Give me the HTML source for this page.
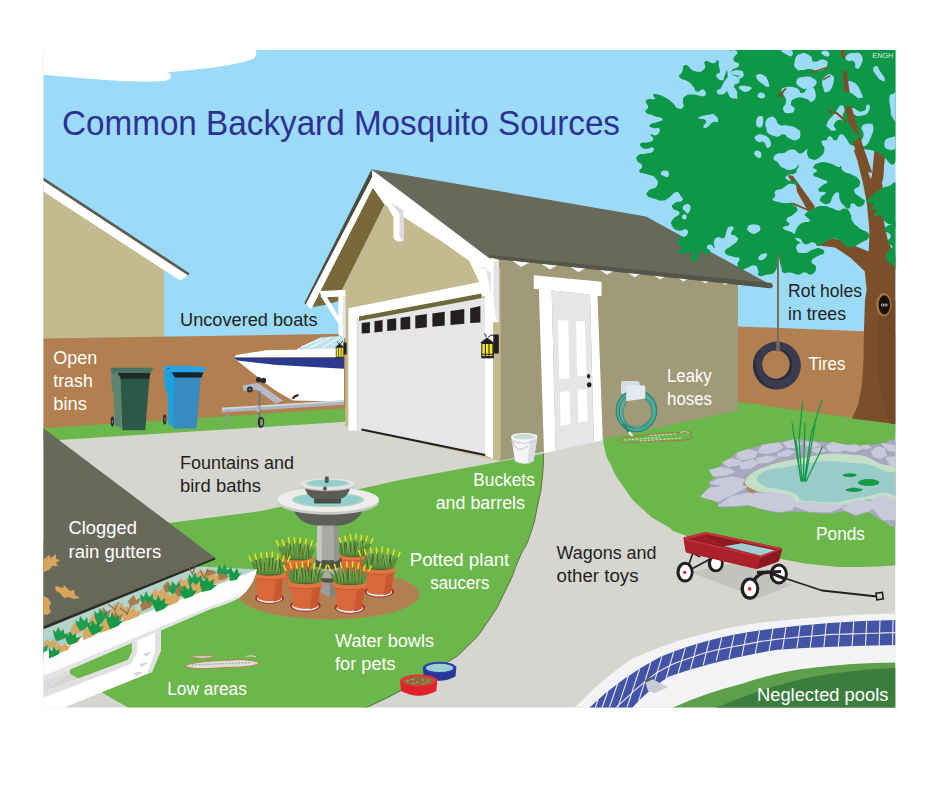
<!DOCTYPE html>
<html>
<head>
<meta charset="utf-8">
<title>Common Backyard Mosquito Sources</title>
<style>
html,body{margin:0;padding:0;background:#fff;}
body{width:940px;height:788px;overflow:hidden;font-family:"Liberation Sans",sans-serif;}
svg{display:block;}
svg text{font-family:"Liberation Sans",sans-serif;}
.w{fill:#fff;}
.k{fill:#231f20;}
</style>
</head>
<body>
<svg width="940" height="788" viewBox="0 0 940 788">
<defs>
<clipPath id="frame"><rect x="43.5" y="50.1" width="852" height="657.5"/></clipPath>
</defs>
<rect x="0" y="0" width="940" height="788" fill="#fff"/>
<g clip-path="url(#frame)">
<!-- SKY -->
<rect x="43" y="50" width="853" height="400" fill="#9bdbf7"/>
<!-- CLOUD -->
<path d="M38,45 H250 C258,48 259,57 250,60 C225,68 190,69.5 167,72.5 C172,74.5 172.5,78.5 167,80.3 C150,84 100,80 38,74.3 Z" fill="#fff"/>

<!-- LEFT HOUSE -->
<polygon points="43,185 164,266 164,340 43,342" fill="#c3ba90"/>
<polygon points="43,179 188.8,274.5 180.4,280.8 43,191.3" fill="#fff"/>
<polygon points="43,177.2 189.6,273.2 188.2,275.6 43,180.6" fill="#5d5d52"/>

<!-- FENCES -->
<polygon points="43,338.5 346,333.8 346,412 43,430" fill="#b17f50"/>
<polygon points="737,326.4 895.5,332.5 895.5,432 736,410" fill="#b17f50"/>

<!-- GROUND : driveway base -->
<polygon points="43,432 346,412 500,458 740,412 895.5,434 895.5,708 43,708" fill="#d6d6d1"/>
<!--LAWNS-->
<g id="lawns">
<polygon points="43,428.3 346,408.3 346,421.8 43,441" fill="#6cb74b"/>
<path id="leftlawn" d="M43,540 L170.6,522.8 L260,511.3 L400,480 L543.7,453.5 C543.1,462.3 543.9,463.2 542.0,480.0 C540.1,496.8 541.9,485.7 537.9,504.0 C533.9,522.3 536.5,516.3 530.0,535.0 C523.5,553.7 526.2,542.4 518.5,560.0 C510.8,577.6 517.1,567.1 506.8,587.7 C496.5,608.3 501.2,601.9 487.7,621.7 C474.2,641.5 480.6,633.1 466.4,647.2 C452.2,661.3 460.5,653.2 445.0,664.0 C429.5,674.8 435.6,670.2 420.0,679.5 C404.4,688.8 415.5,682.9 398.3,692.0 C381.1,701.1 379.3,701.4 368.5,706.8 C357.7,712.2 366.8,707.7 366.0,708.2 L128.5,708 L69,673 L43,660 Z" fill="#6cb74b"/>
<path d="M543.7,453.5 C543.1,462.3 543.9,463.2 542.0,480.0 C540.1,496.8 541.9,485.7 537.9,504.0 C533.9,522.3 536.5,516.3 530.0,535.0 C523.5,553.7 526.2,542.4 518.5,560.0 C510.8,577.6 517.1,567.1 506.8,587.7 C496.5,608.3 501.2,601.9 487.7,621.7 C474.2,641.5 480.6,633.1 466.4,647.2 C452.2,661.3 460.5,653.2 445.0,664.0 C429.5,674.8 435.6,670.2 420.0,679.5 C404.4,688.8 415.5,682.9 398.3,692.0 C381.1,701.1 379.3,701.4 368.5,706.8 C357.7,712.2 366.8,707.7 366.0,708.2" fill="none" stroke="#5d6a3c" stroke-width="1"/>
<path id="rightlawn" d="M895.5,565.5 L895.5,424 L853.6,418 L736,401.7 L736,410 L603.2,438.5 C603.8,442.3 602.8,441.8 605.0,450.0 C607.2,458.2 603.8,451.0 609.8,463.0 C615.8,475.0 612.0,470.6 623.0,486.0 C634.0,501.4 628.5,496.0 642.8,509.2 C657.1,522.4 651.6,516.8 665.9,525.6 C680.2,534.4 662.6,527.5 685.6,535.5 C708.6,543.5 700.9,541.2 735.0,549.5 C769.1,557.8 759.3,555.1 787.9,560.3 C816.5,565.5 798.9,563.0 820.9,565.2 C842.9,567.4 828.9,566.8 853.8,566.9 C878.7,567.0 881.6,566.0 895.5,565.5 Z" fill="#6cb74b"/>
</g>



<!-- POOL -->
<g id="pool">
<path d="M574.5,708 Q600,680 632,659 Q690,632 762,622.5 Q830,615 895.5,613.6 V708 Z" fill="#f4f4f6"/>
<path d="M589,708 Q620,678 660,657 Q705,638 762,630 Q830,621 895.5,620 V645 Q830,646 777,649.7 Q715,660 668.5,676.8 Q648,690 632,708 Z" fill="#4354a5"/>
<path d="M672,708 Q705,693 741,684 Q780,671 813,667.8 Q850,663 895.5,662.5 V708 Z" fill="#5e9f4c"/>
<path d="M715.5,708 Q770,685 813,676.8 Q850,670 895.5,668 V708 Z" fill="#3b7d3d"/>
</g>

<!-- POOL TILES -->
<g id="tiles" stroke="#e9ebf4" stroke-width="1.1" fill="none">
<path d="M893.0,620.1 L892.6,645.1 M880.0,620.6 L879.2,645.6 M866.7,621.1 L865.5,645.8 M853.7,621.6 L852.1,646.0 M840.4,622.1 L838.3,646.5 M826.3,622.9 L823.9,647.0 M813.0,624.4 L810.2,647.7 M800.0,625.8 L796.9,648.6 M785.9,627.4 L782.5,649.6 M772.9,628.8 L769.1,651.2 M759.6,630.5 L755.3,653.8 M746.6,633.0 L741.9,656.2 M734.0,635.4 L728.9,658.6 M721.7,637.8 L716.3,660.9 M709.4,640.2 L703.2,665.1 M697.1,643.8 L690.4,669.4 M685.2,648.1 L678.1,673.6 M673.6,652.2 L665.9,678.8 M662.0,656.3 L652.1,689.1 M650.8,662.4 L638.5,701.6 M639.5,669.0 L623.8,717.5 M628.6,675.4 L608.7,734.9 M618.1,682.2 L596.4,745.1 M607.9,691.2 L588.9,745.2 M598.1,699.9 L581.8,745.1 M588.3,708.8 L574.8,745.2 M578.8,719.3 L569.1,745.0 "/>
<path d="M578.9,728.8 L584.2,725.5 L589.6,722.7 L595.1,719.8 L600.6,717.0 L606.1,714.3 L612.1,711.3 L619.8,704.2 L627.4,697.2 L635.0,690.2 L642.3,683.9 L649.4,678.1 L656.4,673.0 L663.4,669.1 L670.3,665.2 L676.9,662.5 L683.4,660.2 L689.8,658.0 L696.3,655.7 L702.8,653.5 L709.4,651.8 L716.0,650.0 L722.4,648.7 L728.9,647.5 L735.3,646.3 L741.8,645.1 L748.3,643.9 L754.7,642.6 L761.2,641.4 L767.7,640.5 L774.2,639.6 L780.7,638.7 L787.1,638.2 L793.5,637.6 L800.0,637.0 L806.4,636.5 L812.8,636.0 L819.3,635.5 L825.7,634.9 L832.2,634.4 L838.7,634.3 L845.1,634.1 L851.6,633.9 L858.1,633.8 L864.5,633.5 L871.0,633.3 L877.5,633.2 L883.9,632.9 L890.4,632.7 L896.9,632.6"/>
</g>
<polygon points="645,681 651,678.5 668,687 655,693 648,691" fill="#c9cbd3"/><polygon points="644.5,680 651,677 652.5,679.5 646,682.5" fill="#5c5f68"/>
<!-- BOAT + TRAILER -->
<g id="boat">
<!-- windshield -->
<polygon points="297,348.7 320,337.5 339.2,336 344,336 344,349" fill="#bfe3ec"/>
<path d="M301,347 L322,338.5 M309,348 L331,337 M321,348.5 L340,337.5" stroke="#fff" stroke-width="1" fill="none"/>
<polygon points="297,348.7 344,348.2 344,350 297,350.5" fill="#e9f3f6"/>
<!-- hull -->
<path d="M233.6,358 L236,355 L265.8,350.3 L344,348.7 L344,401.5 L293,400.5 C280,394 268,386 258,377 C250,371 242,364 233.6,358 Z" fill="#fff"/>
<!-- stripe -->
<path d="M234,358 L344,358 L344,368.8 L273.8,364.7 C258,363 245,361.5 237.5,360.5 Z" fill="#2b3a8f"/>
<path d="M234,357.8 L344,357.6" stroke="#3a3a45" stroke-width="0.8"/>
<!-- trailer -->
<polygon points="222,407.8 344,400.2 344,404.8 221.2,412.6" fill="#aeb5c1"/>
<polygon points="222,407.8 344,400.2 344,401.8 222,409.4" fill="#d5d9e0"/>
<polygon points="242.7,385.4 257.9,383 283,400.5 276,403.5 256,389.5 243.5,391" fill="#b5bbc6"/>
<rect x="258.6" y="391" width="1.8" height="28" fill="#6f747c"/>
<rect x="256.6" y="406" width="3" height="6" fill="#aeb5c1"/>
<rect x="227.6" y="410.5" width="1.4" height="14" fill="#8f959e"/>
<ellipse cx="261" cy="422.3" rx="3.2" ry="5.6" fill="#2b2b2d"/>
<ellipse cx="261.5" cy="422.3" rx="1.5" ry="3.6" fill="#8a8d92"/>
<circle cx="258.7" cy="379.8" r="2.7" fill="#2b2b2d"/>
<circle cx="263.5" cy="380.4" r="2.7" fill="#2b2b2d"/>
<circle cx="249.9" cy="389.4" r="2.9" fill="#2b2b2d"/>
<circle cx="249.9" cy="389.4" r="1" fill="#9a9da3"/>
<path d="M291.5,398.5 L294,395.5 L298.5,394 L298.5,396 L295,397.5 L294,399Z" fill="#231f20"/>
</g>
<!-- BINS -->
<g id="bins">
<!-- green bin -->
<ellipse cx="112.4" cy="421.4" rx="1.7" ry="5" fill="#2a2a30"/>
<ellipse cx="112.6" cy="421.4" rx="0.7" ry="2.2" fill="#77787f"/>
<path d="M110.9,369 L121,369 L121.5,428 L114.5,425.5 L114,392.5 L112,392 Z" fill="#5c8573"/>
<polygon points="120.5,376 149.6,376 145.3,430.3 122.3,430.3" fill="#2b5848"/>
<polygon points="117.5,372.9 150.5,372.9 149.3,378.8 121,378.8" fill="#1f2a27"/>
<path d="M110.9,367.8 L152.3,367.8 Q153.2,368 152.9,369.5 L150.5,372.9 L117.8,372.9 L116.5,371 L110.9,371 Z" fill="#4a7565"/>
<path d="M113,369 v5 M115,369 v5" stroke="#3b6253" stroke-width="0.8"/>
<!-- blue bin -->
<ellipse cx="164.7" cy="419.5" rx="1.7" ry="5" fill="#2a2a30"/>
<ellipse cx="164.9" cy="419.5" rx="0.7" ry="2.2" fill="#77787f"/>
<path d="M163.8,367 L175,367 L175,427 L168.5,424.5 L167.5,391 L165,390.5 Z" fill="#1ba0e0"/>
<polygon points="174.5,375 201,375 196.4,428.4 172.8,428.4" fill="#378bc0"/>
<polygon points="171,371.5 203.5,372.3 201.5,377.6 175,377.6" fill="#17232d"/>
<path d="M163.8,365.9 L190,365.5 L191,366.4 L199,366.6 L206,367.8 L203.8,372.3 L171.5,372.3 L170,370 L164,370 Z" fill="#2aa3e6"/>
<path d="M166.5,368.5 h3.5" stroke="#1572a3" stroke-width="1"/>
</g>

<!-- GARAGE -->
<g id="garage">
<!-- side wall -->
<polygon points="493,256 738,282 738,410.4 500,461 493,459" fill="#a19a79"/>
<!-- front wall -->
<polygon points="384.5,204.5 500.5,268 500.5,461 493,459.5 345.3,426 345.3,296 341.9,290" fill="#c3ba90"/>
<!-- soffit -->
<polygon points="372.8,187.4 384.5,204.5 341.9,290 345.3,296 345.3,299 326,304.8 312,307.2" fill="#79683a"/>
<!-- roof -->
<!-- left rake dark edge -->
<polygon points="371.5,169.2 373.5,174.5 307,305 304.3,303.2" fill="#4b4b40"/>
<!-- left rake white fascia -->
<polygon points="373,175.5 373,187.6 312.2,307.2 310.4,308.5 305.9,303.9" fill="#fff"/>
<!-- right rake white fascia -->
<path d="M371.8,170.5 L489.3,254 L492.5,258 C493,262 490,266 484,266.5 C481,266 479.5,263.5 478.5,262 L468,260 L420,226 L373,188.2 Z" fill="#fff"/>
<polygon points="371.5,169.2 646,216.6 773,286 771,288.2 489.3,258.3" fill="#69695b"/>
<!-- rafter tails -->
<g fill="#f6f6f4">
<polygon points="512,260.6 530,262.4 521,267"/>
<polygon points="541,263.6 558,265.3 550,269.6"/>
<polygon points="570,266.5 586,268.1 578.5,272.2"/>
<polygon points="599,269.4 614,270.9 607,274.8"/>
<polygon points="627,272.2 641,273.6 634.5,277.2"/>
<polygon points="653,274.8 666,276.1 660,279.5"/>
<polygon points="677,277.2 689,278.4 683.5,281.5"/>
<polygon points="699.5,279.5 710.5,280.6 705.5,283.4"/>
<polygon points="720,281.5 730,282.5 725.5,285"/>
</g>
<!-- eave dark band -->
<polygon points="489.3,255 771.5,283 773,286 771,288.2 489.3,258.3" fill="#55554a"/>
<!-- gable top bracket -->
<polygon points="372.8,187.4 421,226 440,240.5 384.5,204.5" fill="#fff"/>
<path d="M383,199 L391,203 L403.5,210 L403.5,241 L398,241.8 L393.5,238.5 L393.5,217 Z" fill="#fff"/>
<polygon points="391,203 403.5,210 403.5,241 399.5,238 399.5,214" fill="#dcdcde"/>
<!-- left bracket -->
<polygon points="319,291.1 345.3,290 345.3,296.6 322,297.2" fill="#fff"/>
<polygon points="338.4,290 345.3,290 345.3,338.6 338.4,335" fill="#fff"/>
<polygon points="320.4,295.7 325.5,294.6 340.1,319.1 340.1,326.5" fill="#fff"/>
<polygon points="342.6,296 345.3,296 345.3,338.6 342.6,337" fill="#e6e6e8"/>
<!-- garage door frame -->
<polygon points="348.4,308.3 481.5,281.8 493,281.8 493,459 485,455 485,296 361.2,320 361.2,430.6 348.4,430.6" fill="#fff"/>
<polygon points="356.6,317 361.2,320 361.2,430.6 356.6,430.6" fill="#e1e1e3"/>
<!-- olive strip -->
<polygon points="359,316.4 481.5,293.6 481.5,299.3 359,321" fill="#6d693c"/>
<!-- door panel -->
<polygon points="359,321 485,297.5 485,455 361.5,429.3 359,428" fill="#e6e6e8"/>
<!-- windows -->
<g fill="#231f20">
<polygon points="361.7,323.0 369.9,321.9 369.9,332.9 361.7,333.6"/>
<polygon points="374.5,321.2 382.6,320.1 382.6,331.6 374.5,332.4"/>
<polygon points="387.2,319.5 396.2,318.3 396.2,330.3 387.2,331.1"/>
<polygon points="400.5,317.7 410.2,316.4 410.2,328.9 400.5,329.8"/>
<polygon points="415.3,315.7 426.8,314.1 426.8,327.3 415.3,328.4"/>
<polygon points="432.4,313.4 444.7,311.7 444.7,325.6 432.4,326.7"/>
<polygon points="450.5,310.9 464.3,309.1 464.3,323.7 450.5,325.0"/>
<polygon points="470.2,308.2 480.4,306.0 480.4,322.4 470.2,323.1"/>
</g>
<!-- door bottom line -->
<line x1="361.5" y1="429.5" x2="485.2" y2="455" stroke="#231f20" stroke-width="1.8"/>
<!-- right bracket -->
<path d="M468,258.5 L478.5,261 L492.5,258 L499,260 L499,322 L491,322 L491,306 Z" fill="#fff"/>
<polygon points="476,265 486,268 491,296 491,272" fill="#e4e4e8"/>
<polygon points="493.5,262 499,260 499,322 496,319 493.5,300" fill="#e4e4e8"/>
<!-- lamps -->
<g id="lampR">
<rect x="493.5" y="334.5" width="5.3" height="19" fill="#231f20"/>
<path d="M480,343 L487,337.5 L494.5,343 Z" fill="#231f20"/>
<path d="M486,337.5 q1,-3 -2,-4 M488,337.5 q3,-4 6,-2" stroke="#231f20" stroke-width="1" fill="none"/>
<rect x="481.3" y="342.7" width="12.5" height="15.6" fill="#231f20"/>
<rect x="482.3" y="344" width="2.6" height="12" fill="#f3e626"/>
<rect x="485.9" y="344" width="2.6" height="12" fill="#f3e626"/>
<rect x="489.5" y="344" width="2.9" height="12" fill="#f3e626"/>
<rect x="481.3" y="353.8" width="12.5" height="1" fill="#231f20"/>
</g>
<g id="lampL">
<rect x="343.4" y="342.5" width="3.2" height="12" fill="#231f20"/>
<path d="M335,347.5 L339.6,343.6 L344.4,347.5 Z" fill="#231f20"/>
<path d="M339,344 l-2,-2.5 M340,344 l3,-3" stroke="#231f20" stroke-width="0.8"/>
<rect x="335.8" y="347.2" width="8" height="10.8" fill="#3a3a20"/>
<rect x="336.5" y="348" width="1.8" height="8.8" fill="#e8dc2a"/>
<rect x="339" y="348" width="1.8" height="8.8" fill="#e8dc2a"/>
<rect x="341.4" y="348" width="1.8" height="8.8" fill="#e8dc2a"/>
</g>
<!-- side door -->
<g id="sidedoor">
<polygon points="533.8,275.3 601.5,281.7 601.5,296 597.5,296 602.8,440 593.8,442.3 590,294.6 551.7,290.6 555.7,450.6 544,453.3 538.9,289.2 533.8,288.8" fill="#fff"/>
<polygon points="551.7,290.6 590,294.6 593.8,442.3 555.7,450.6" fill="#e6e6e8"/>
<polygon points="558,320 568.3,320.5 569.3,378 559.2,379" fill="#fff"/>
<polygon points="576,321 585,321.5 586.5,375.5 577.2,376.6" fill="#fff"/>
<polygon points="559.8,392 569.6,391 570.3,424 560.6,426" fill="#fff"/>
<polygon points="577.6,390 586.8,389 587.7,421 578.4,422.8" fill="#fff"/>
<ellipse cx="588.6" cy="376.3" rx="1.6" ry="2.2" fill="#231f20"/>
<ellipse cx="589.2" cy="384.8" rx="2.3" ry="2.6" fill="#231f20"/>
</g>
</g>


<g id="tree">
<path d="M866.6,290.0 L864.8,270.8 L868.7,254.8 L869.4,229.9 L866.9,203.3 L862.7,182.0 L857.4,160.7 L853.8,150.0 L859.5,150.0 L864.8,166.0 L871.0,179.3 L875.5,160.7 L877.2,150.0 L885.2,150.0 L882.9,182.0 L881.2,203.3 L884.4,224.6 L888.3,242.4 L895.9,256.6 L895.5,290.0 L895.5,424.0 L852.0,418.5 L858.0,405.0 L862.0,385.0 L863.5,360.0 L864.0,330.0 L865.0,300.0Z" fill="#7b4f29"/>
<path d="M880,300 C878,330 877,350 878,370 C880,395 885,412 890,423.5 L895.5,424 L895.5,300 Z" fill="#734927"/>
<path d="M850.2,140.0 L844.5,107.4 L842.6,69.1 L840.6,50.0 L844.5,50.0 L846.8,69.1 L852.1,107.4 L859.8,141.9 Z" fill="#7b4f29"/>
<path d="M875.1,141.9 L885.6,141.9 L882.8,182.1 L871.3,184.0 Z" fill="#7b4f29"/>
<path d="M870.0,252.0 L856.8,246.8 L843.5,240.6 L831.0,238.3 L818.6,245.6 L835.2,247.5 L850.5,257.7 L866.5,273.0 L870.0,275.0 Z" fill="#7b4f29"/>
<path d="M787.5,174.9 L792.9,175.8 L815.1,206.8 L811.5,210.4 L808.9,211.3 L792.0,204.2 L792.9,202.4 L806.5,208.6 Z" fill="#7b4f29"/>
<path d="M730.6,50.0 C728.7,53.3 728.3,52.9 728.6,56.0 C728.9,59.0 731.8,56.6 731.5,60.2 C731.2,63.8 729.6,63.3 727.6,67.9 C725.5,72.5 726.3,71.8 724.7,75.5 C723.0,79.3 724.7,80.3 722.1,80.3 C719.6,80.3 716.7,78.5 716.2,75.5 C715.7,72.6 719.8,74.9 720.4,70.4 C721.1,65.9 720.5,62.7 718.4,60.6 C716.2,58.4 717.3,63.0 713.3,63.3 C709.3,63.6 707.8,59.8 705.1,61.6 C702.4,63.3 707.3,66.2 704.3,69.1 C701.2,72.0 700.5,72.5 694.9,71.3 C689.3,70.1 689.4,64.7 685.5,65.0 C681.7,65.2 683.9,68.5 682.1,72.1 C680.3,75.8 677.8,74.4 679.6,77.2 C681.4,80.0 684.0,78.7 688.1,81.5 C692.2,84.3 690.5,83.5 693.2,86.6 C695.8,89.7 693.9,90.8 696.9,91.7 C700.0,92.6 701.2,88.2 703.4,89.5 C705.6,90.8 707.3,94.4 704.3,96.0 C701.2,97.5 698.8,94.6 693.2,94.6 C687.6,94.6 688.6,94.0 685.5,96.0 C682.5,97.9 683.6,97.7 683.0,101.1 C682.3,104.4 684.9,104.9 683.3,107.0 C681.8,109.2 681.0,109.4 677.9,108.2 C674.7,107.0 676.3,106.2 672.8,103.1 C669.2,100.0 670.8,100.7 666.0,98.0 C661.1,95.3 660.4,95.0 656.6,94.3 C652.8,93.5 653.7,94.2 653.2,95.6 C652.7,97.0 656.4,97.9 654.9,99.0 C653.4,100.1 650.8,98.5 648.1,99.4 C645.4,100.2 645.9,99.6 645.9,101.9 C645.9,104.2 648.2,104.0 648.1,107.0 C648.0,110.1 644.0,109.6 645.5,112.1 C647.1,114.7 648.1,113.5 653.2,115.5 C658.3,117.6 661.0,117.0 662.6,118.9 C664.1,120.8 662.1,120.0 658.3,121.8 C654.5,123.6 651.3,123.1 649.8,124.9 C648.3,126.7 650.3,126.8 653.2,128.0 C656.1,129.1 658.5,126.5 659.5,128.6 C660.5,130.8 659.3,133.4 656.6,135.1 C653.9,136.8 651.7,133.0 650.6,134.3 C649.6,135.5 654.0,137.0 653.2,139.4 C652.4,141.8 651.8,141.1 648.1,142.3 C644.4,143.4 642.7,141.7 640.8,143.3 C638.9,144.8 639.8,145.7 641.8,147.4 C643.7,149.0 644.0,148.7 647.2,148.7 C650.5,148.7 651.0,146.4 652.7,147.4 C654.3,148.3 654.8,149.8 652.7,151.8 C650.5,153.7 649.8,152.8 645.5,153.8 C641.2,154.9 640.9,153.1 638.4,155.2 C635.8,157.2 635.9,157.5 637.0,160.6 C638.1,163.8 641.4,162.4 642.1,165.7 C642.9,169.1 638.0,169.1 639.6,171.7 C641.1,174.3 642.4,172.2 647.2,174.3 C652.1,176.3 652.9,174.9 655.7,178.5 C658.6,182.1 658.6,182.6 656.6,186.2 C654.6,189.7 651.7,187.6 648.9,190.4 C646.1,193.2 645.7,193.1 647.2,195.5 C648.8,198.0 649.4,197.1 654.0,198.6 C658.6,200.1 658.0,201.0 662.6,200.6 C667.1,200.2 665.3,199.8 669.4,197.2 C673.4,194.7 672.9,192.6 676.2,192.1 C679.5,191.6 678.6,193.0 680.4,195.5 C682.2,198.1 683.9,198.3 682.1,200.6 C680.3,202.9 677.3,200.9 674.5,203.2 C671.7,205.5 671.2,205.4 672.8,208.3 C674.3,211.2 679.6,209.6 679.6,212.9 C679.6,216.2 675.1,215.6 672.8,219.4 C670.5,223.1 670.4,222.0 671.9,225.3 C673.4,228.6 673.5,229.1 677.9,230.4 C682.2,231.7 683.8,228.0 686.4,229.6 C688.9,231.1 688.7,233.0 686.4,235.5 C684.1,238.1 681.5,236.0 678.7,238.1 C675.9,240.1 676.3,239.5 677.0,242.3 C677.8,245.1 681.0,244.5 681.3,247.4 C681.5,250.4 677.1,250.2 677.9,252.0 C678.6,253.9 679.7,253.9 683.8,253.7 C687.9,253.5 689.4,249.9 691.5,251.4 C693.5,252.8 689.6,255.5 690.6,258.5 C691.7,261.5 692.5,261.9 694.9,261.4 C697.3,260.9 697.4,260.0 698.6,256.8 C699.9,253.6 697.2,251.5 699.1,250.9 C701.1,250.2 701.8,254.4 705.1,254.6 C708.4,254.7 709.7,253.5 710.2,251.4 C710.7,249.2 706.7,249.5 706.8,247.4 C706.9,245.4 708.2,244.4 710.6,244.6 C712.9,244.7 713.6,248.9 714.6,248.0 C715.7,247.0 713.0,244.7 714.0,241.5 C714.9,238.3 714.9,238.3 717.9,237.2 C720.8,236.2 721.3,239.9 723.8,238.1 C726.4,236.3 724.9,234.6 726.4,231.3 C727.9,228.0 726.7,228.0 728.9,227.0 C731.1,226.0 733.1,225.8 733.7,227.9 C734.3,229.9 730.3,231.3 731.0,233.8 C731.7,236.4 734.1,234.3 736.1,236.4 C738.0,238.4 739.1,237.6 737.4,240.6 C735.8,243.7 734.2,243.8 730.6,246.6 C727.1,249.4 726.8,247.7 725.5,250.0 C724.3,252.3 724.1,252.2 726.4,254.3 C728.7,256.3 729.3,255.5 733.2,256.8 C737.1,258.1 738.2,256.2 739.5,258.5 C740.8,260.8 736.9,261.1 737.4,264.5 C738.0,267.8 738.4,268.6 741.2,269.6 C744.0,270.6 742.8,269.1 746.8,267.9 C750.8,266.6 751.0,264.6 754.5,265.3 C757.9,266.1 756.9,267.4 758.2,270.4 C759.5,273.5 756.3,274.3 758.7,275.5 C761.2,276.8 761.3,276.2 766.4,274.7 C771.5,273.1 772.3,275.9 775.7,270.4 C779.2,265.0 776.1,257.5 777.8,256.6 C779.4,255.6 779.7,262.5 781.3,267.2 C782.9,272.0 780.4,271.0 783.1,272.6 C785.8,274.2 785.7,271.9 790.2,272.6 C794.7,273.2 793.9,274.7 798.2,274.7 C802.5,274.7 800.4,272.7 804.4,272.6 C808.4,272.5 808.1,276.0 811.5,274.4 C815.0,272.8 816.0,271.0 816.0,267.2 C816.0,263.5 811.3,265.1 811.5,261.9 C811.8,258.7 813.1,259.3 816.8,256.6 C820.6,253.9 822.9,255.4 824.0,253.0 C825.0,250.6 823.6,249.7 820.4,248.6 C817.2,247.5 818.1,248.2 813.3,249.5 C808.5,250.8 809.2,253.0 804.4,253.0 C799.6,253.0 798.4,252.1 797.3,249.5 C796.2,246.8 801.4,247.4 800.9,244.2 C800.3,241.0 797.7,242.0 795.5,238.8 C793.4,235.6 797.5,236.7 793.8,233.5 C790.0,230.3 784.4,230.8 783.1,228.2 C781.8,225.5 788.2,227.3 789.3,224.6 C790.4,221.9 785.3,222.5 786.6,219.3 C788.0,216.1 790.6,217.2 793.8,214.0 C797.0,210.8 797.8,211.8 797.3,208.6 C796.8,205.4 792.5,206.5 792.0,203.3 C791.4,200.1 794.7,201.2 795.5,198.0 C796.3,194.8 796.2,193.2 794.6,192.6 C793.0,192.1 794.7,194.6 790.2,196.2 C785.7,197.8 784.1,199.0 779.5,198.0 C775.0,196.9 774.6,195.3 775.1,192.6 C775.6,190.0 776.3,190.4 781.3,189.1 C786.4,187.8 787.2,190.3 792.0,188.2 C796.8,186.1 798.4,184.4 797.3,182.0 C796.2,179.6 791.6,182.1 788.4,180.2 C785.2,178.3 784.5,177.9 786.6,175.8 C788.8,173.6 791.0,175.5 795.5,173.1 C800.1,170.7 800.9,171.5 801.7,167.8 C802.5,164.0 797.9,164.9 798.2,160.7 C798.5,156.4 798.1,156.8 802.6,153.6 C807.2,150.4 805.1,154.1 813.3,150.0 C821.5,145.9 813.0,140.0 830.0,140.0 C847.0,140.0 849.0,147.0 870.0,150.0 C891.0,153.0 891.0,181.5 900.0,150.0 C909.0,118.5 949.5,76.5 900.0,45.0 C850.5,13.5 785.8,43.5 735.0,45.0 C684.2,46.5 732.6,46.7 730.6,50.0Z" fill="#0e9747"/>
<path d="M720.0,53.8 C722.3,47.8 722.5,51.5 727.7,51.0 C732.8,50.4 735.5,49.3 737.2,51.9 C739.0,54.5 732.8,55.6 733.4,59.6 C734.0,63.6 739.7,61.9 739.1,65.3 C738.6,68.8 732.1,67.6 731.5,71.1 C730.9,74.5 734.4,76.2 737.2,76.8 C740.1,77.4 739.3,73.0 741.1,73.0 C742.8,73.0 745.3,73.9 743.0,76.8 C740.7,79.7 735.1,77.4 733.4,82.6 C731.7,87.7 737.8,89.4 737.2,94.0 C736.7,98.6 734.9,99.0 731.5,97.9 C728.0,96.7 729.2,91.9 725.7,90.2 C722.3,88.5 720.6,94.4 720.0,92.1 C719.4,89.8 721.5,87.7 723.8,82.6 C726.1,77.4 727.7,79.5 727.7,74.9 C727.7,70.3 726.1,68.4 723.8,67.2 C721.5,66.1 721.1,75.1 720.0,71.1 C718.9,67.0 717.7,59.9 720.0,53.8Z" fill="#9bdbf7"/>
<path d="M758.3,75.9 C758.6,73.6 760.2,73.5 763.1,74.9 C766.0,76.3 766.7,77.2 767.9,80.6 C769.0,84.1 768.6,85.8 766.9,86.4 C765.2,87.0 764.7,85.7 762.1,82.6 C759.5,79.4 758.0,78.2 758.3,75.9Z" fill="#9bdbf7"/>
<path d="M758.3,95.0 C758.3,93.3 759.2,92.2 761.2,92.5 C763.2,92.8 765.0,94.2 765.0,96.0 C765.0,97.7 763.2,98.5 761.2,98.3 C759.2,98.0 758.3,96.7 758.3,95.0Z" fill="#9bdbf7"/>
<path d="M740.1,86.4 C741.8,85.2 746.1,86.2 748.7,87.3 C751.3,88.5 750.4,89.1 748.7,90.2 C747.0,91.4 745.6,92.3 743.0,91.2 C740.4,90.0 738.4,87.5 740.1,86.4Z" fill="#9bdbf7"/>
<path d="M781.3,91.2 C781.9,88.6 781.5,88.2 786.1,87.3 C790.7,86.5 791.7,86.6 796.6,88.3 C801.5,90.0 798.3,93.7 802.3,93.1 C806.4,92.5 806.0,86.1 810.0,86.4 C814.0,86.7 815.2,89.4 815.7,94.0 C816.3,98.6 814.8,100.3 811.9,101.7 C809.0,103.1 810.8,100.0 806.2,98.8 C801.6,97.7 801.2,96.4 796.6,97.9 C792.0,99.3 791.4,100.2 790.9,103.6 C790.3,107.1 795.3,106.5 794.7,109.4 C794.1,112.2 792.4,113.2 788.9,113.2 C785.5,113.2 784.1,112.8 783.2,109.4 C782.3,105.9 785.8,105.7 786.1,101.7 C786.4,97.7 785.6,99.1 784.2,96.0 C782.7,92.8 780.7,93.8 781.3,91.2Z" fill="#9bdbf7"/>
<path d="M794.7,61.5 C795.8,56.9 795.8,55.6 800.4,53.8 C805.0,52.1 806.0,53.4 810.0,55.7 C814.0,58.0 809.8,60.3 813.8,61.5 C817.9,62.6 819.4,58.4 823.4,59.6 C827.4,60.7 828.4,61.9 827.2,65.3 C826.1,68.8 824.7,69.9 819.6,71.1 C814.4,72.2 815.2,69.4 810.0,69.1 C804.8,68.9 806.4,70.1 802.3,70.1 C798.3,70.1 798.9,71.7 796.6,69.1 C794.3,66.6 793.5,66.1 794.7,61.5Z" fill="#9bdbf7"/>
<path d="M796.6,80.6 C797.7,77.5 799.1,77.4 804.3,76.8 C809.4,76.2 810.4,76.4 813.8,78.7 C817.3,81.0 817.5,81.6 815.7,84.5 C814.0,87.3 812.7,87.4 808.1,88.3 C803.5,89.2 803.9,89.6 800.4,87.3 C797.0,85.0 795.5,83.8 796.6,80.6Z" fill="#9bdbf7"/>
<path d="M823.4,78.7 C826.0,74.7 829.2,73.2 832.0,74.9 C834.9,76.6 834.4,79.3 833.0,84.5 C831.5,89.6 830.1,91.0 827.2,92.1 C824.4,93.3 824.6,92.3 823.4,88.3 C822.3,84.3 820.8,82.7 823.4,78.7Z" fill="#9bdbf7"/>
<path d="M781.3,50.0 C782.4,48.6 787.7,48.3 790.9,50.0 C794.0,51.7 793.0,54.3 791.8,55.7 C790.7,57.2 790.2,56.5 787.0,54.8 C783.9,53.1 780.1,51.4 781.3,50.0Z" fill="#9bdbf7"/>
<path d="M821.5,51.9 C822.4,50.5 824.9,49.8 827.2,51.0 C829.5,52.1 830.0,54.3 829.2,55.7 C828.3,57.2 826.7,56.9 824.4,55.7 C822.1,54.6 820.6,53.4 821.5,51.9Z" fill="#9bdbf7"/>
<path d="M846.4,55.7 C848.4,53.4 849.5,52.9 854.0,52.9 C858.6,52.9 859.7,52.0 861.7,55.7 C863.7,59.5 862.5,61.6 860.8,65.3 C859.0,69.1 858.0,69.3 856.0,68.2 C854.0,67.0 856.6,63.8 854.0,61.5 C851.5,59.2 849.6,62.3 847.3,60.5 C845.0,58.8 844.4,58.0 846.4,55.7Z" fill="#9bdbf7"/>
<path d="M873.2,69.1 C873.5,66.6 875.0,65.7 877.0,66.3 C879.0,66.9 877.6,67.3 879.9,71.1 C882.2,74.8 884.1,75.9 884.7,78.7 C885.3,81.6 884.4,81.8 881.8,80.6 C879.2,79.5 878.7,78.3 876.1,74.9 C873.5,71.4 872.9,71.7 873.2,69.1Z" fill="#9bdbf7"/>
<path d="M846.4,84.5 C847.0,80.7 849.5,79.7 854.0,82.6 C858.6,85.4 859.7,89.4 861.7,94.0 C863.7,98.6 863.6,97.6 860.8,97.9 C857.9,98.2 856.4,99.0 852.1,95.0 C847.8,91.0 845.8,88.2 846.4,84.5Z" fill="#9bdbf7"/>
<path d="M827.2,122.8 C829.0,118.2 830.9,118.4 834.9,113.2 C838.9,108.0 837.8,106.7 840.6,105.5 C843.5,104.4 843.9,105.9 844.5,109.4 C845.0,112.8 842.6,111.9 842.6,117.0 C842.6,122.2 846.8,122.6 844.5,126.6 C842.2,130.6 839.5,129.9 834.9,130.4 C830.3,131.0 831.5,130.8 829.2,128.5 C826.9,126.2 825.5,127.4 827.2,122.8Z" fill="#9bdbf7"/>
<path d="M852.1,107.4 C854.4,106.6 857.1,112.1 861.7,111.3 C866.3,110.4 865.2,105.2 867.5,104.6 C869.8,104.0 870.5,106.2 869.4,109.4 C868.2,112.5 868.2,113.7 863.6,115.1 C859.0,116.5 857.5,116.4 854.0,114.2 C850.6,111.9 849.8,108.3 852.1,107.4Z" fill="#9bdbf7"/>
<path d="M766.0,120.9 C767.7,117.1 769.6,116.8 773.6,118.0 C777.6,119.1 775.3,122.4 779.4,124.7 C783.4,127.0 781.9,124.5 787.0,125.6 C792.2,126.8 792.6,125.9 796.6,128.5 C800.6,131.1 800.4,130.8 800.4,134.3 C800.4,137.7 800.0,138.9 796.6,140.0 C793.2,141.2 793.0,139.8 788.9,138.1 C784.9,136.4 787.8,135.1 783.2,134.3 C778.6,133.4 778.2,136.4 773.6,135.2 C769.0,134.1 770.2,134.7 767.9,130.4 C765.6,126.1 764.2,124.6 766.0,120.9Z" fill="#9bdbf7"/>
<path d="M755.4,136.2 C757.4,134.5 759.4,133.5 764.0,135.2 C768.6,136.9 769.6,138.2 770.7,141.9 C771.9,145.7 769.9,147.7 767.9,147.7 C765.9,147.7 767.2,143.9 764.0,141.9 C760.9,139.9 759.9,142.7 757.3,141.0 C754.8,139.2 753.4,137.9 755.4,136.2Z" fill="#9bdbf7"/>
<path d="M754.5,152.5 C755.0,150.6 757.2,150.0 759.3,151.1 C761.3,152.3 761.7,154.4 761.2,156.3 C760.6,158.1 759.4,158.4 757.3,157.2 C755.3,156.1 753.9,154.3 754.5,152.5Z" fill="#9bdbf7"/>
<path d="M756.4,119.9 C757.0,116.7 759.2,115.5 761.2,116.1 C763.2,116.6 763.7,118.7 763.1,121.8 C762.5,125.0 761.3,127.2 759.3,126.6 C757.2,126.0 755.8,123.1 756.4,119.9Z" fill="#9bdbf7"/>
<path d="M773.6,157.2 C773.6,154.4 777.4,155.7 783.2,153.4 C788.9,151.1 787.6,149.6 792.8,149.6 C797.9,149.6 795.8,153.4 800.4,153.4 C805.0,153.4 805.2,148.4 808.1,149.6 C811.0,150.7 811.2,152.6 810.0,157.2 C808.9,161.8 804.3,160.3 804.3,164.9 C804.3,169.5 809.4,166.8 810.0,172.6 C810.6,178.3 809.0,181.2 806.2,184.0 C803.3,186.9 803.3,185.6 800.4,182.1 C797.6,178.7 797.2,177.7 796.6,172.6 C796.0,167.4 799.7,168.3 798.5,164.9 C797.4,161.5 797.4,161.6 792.8,161.1 C788.2,160.5 788.9,164.1 783.2,163.0 C777.4,161.8 773.6,160.1 773.6,157.2Z" fill="#9bdbf7"/>
<path d="M819.6,149.6 C820.2,146.1 823.2,145.2 827.2,145.7 C831.3,146.3 830.1,153.2 833.0,151.5 C835.9,149.8 833.9,145.2 836.8,140.0 C839.7,134.8 839.1,133.7 842.6,134.3 C846.0,134.8 845.4,137.3 848.3,141.9 C851.2,146.5 850.4,143.8 852.1,149.6 C853.9,155.3 855.8,156.5 854.0,161.1 C852.3,165.7 849.8,166.0 846.4,164.9 C842.9,163.7 845.4,157.8 842.6,157.2 C839.7,156.7 840.3,162.4 836.8,163.0 C833.4,163.6 834.5,160.9 831.1,159.2 C827.6,157.4 828.8,160.1 825.3,157.2 C821.9,154.4 819.0,153.0 819.6,149.6Z" fill="#9bdbf7"/>
<path d="M827.2,139.0 C827.4,137.3 828.4,135.9 830.1,136.2 C831.8,136.5 833.2,138.3 833.0,140.0 C832.8,141.7 831.3,142.2 829.5,141.9 C827.8,141.6 827.1,140.8 827.2,139.0Z" fill="#9bdbf7"/>
<path d="M861.7,126.6 C863.4,123.4 865.9,123.7 869.4,123.7 C872.8,123.7 872.6,122.9 873.2,126.6 C873.8,130.3 873.6,130.4 871.3,136.2 C869.0,141.9 868.4,144.0 865.5,145.7 C862.7,147.5 862.3,145.4 861.7,141.9 C861.1,138.5 863.6,138.9 863.6,134.3 C863.6,129.7 860.0,129.8 861.7,126.6Z" fill="#9bdbf7"/>
<path d="M889.5,97.9 C890.0,93.9 889.8,94.6 892.3,94.0 C894.9,93.5 896.4,88.5 898.1,96.0 C899.8,103.4 899.8,112.6 898.1,118.9 C896.4,125.3 894.6,120.5 892.3,117.0 C890.0,113.6 891.3,113.2 890.4,107.4 C889.6,101.7 888.9,101.9 889.5,97.9Z" fill="#9bdbf7"/>
<path d="M884.7,141.9 C885.8,138.2 888.3,138.3 892.3,137.1 C896.4,136.0 896.4,135.5 898.1,138.1 C899.8,140.7 901.0,142.3 898.1,145.7 C895.2,149.2 892.5,150.7 888.5,149.6 C884.5,148.4 883.5,145.7 884.7,141.9Z" fill="#9bdbf7"/>
<path d="M882.8,180.2 C884.5,176.8 887.8,177.3 892.3,176.4 C896.9,175.5 896.4,173.9 898.1,177.3 C899.8,180.8 901.5,184.7 898.1,187.9 C894.6,191.0 891.2,190.2 886.6,187.9 C882.0,185.6 881.0,183.7 882.8,180.2Z" fill="#9bdbf7"/>
<path d="M775.5,195.5 C777.8,191.5 778.0,191.3 783.2,187.9 C788.4,184.4 788.7,183.5 792.8,184.0 C796.8,184.6 796.0,184.6 796.6,189.8 C797.2,195.0 801.0,197.8 794.7,201.3 C788.4,204.7 781.3,203.0 775.5,201.3 C769.8,199.6 773.2,199.6 775.5,195.5Z" fill="#9bdbf7"/>
<path d="M698.3,118.1 C699.1,116.3 703.4,115.4 708.5,114.7 C713.6,113.9 712.5,113.5 715.3,115.5 C718.1,117.6 718.6,119.4 717.9,121.5 C717.1,123.5 716.1,120.6 712.8,122.3 C709.4,124.1 709.6,126.2 706.8,127.4 C704.0,128.7 703.7,128.6 703.4,126.6 C703.1,124.6 707.5,123.2 706.0,120.6 C704.4,118.1 697.5,119.9 698.3,118.1Z" fill="#9bdbf7"/>
<path d="M660.9,173.4 C661.6,172.0 663.7,171.1 666.0,170.9 C668.3,170.6 668.0,170.8 668.5,172.6 C669.0,174.3 669.2,175.9 667.7,176.8 C666.1,177.7 665.4,176.6 663.4,175.6 C661.4,174.6 660.1,174.8 660.9,173.4Z" fill="#9bdbf7"/>
<path d="M717.0,90.9 C718.0,88.5 721.4,90.2 725.5,86.6 C729.6,83.0 727.1,81.7 730.6,78.9 C734.2,76.1 734.9,76.2 737.4,77.2 C740.0,78.3 740.2,79.5 739.1,82.3 C738.1,85.1 734.6,82.0 734.0,86.6 C733.5,91.2 738.0,94.9 737.4,97.7 C736.9,100.5 734.9,98.0 732.3,96.0 C729.8,93.9 732.0,91.3 728.9,90.9 C725.9,90.4 725.7,94.6 722.1,94.6 C718.6,94.6 716.0,93.3 717.0,90.9Z" fill="#9bdbf7"/>
<path d="M731.5,72.1 C732.0,70.6 735.6,70.2 739.1,70.4 C742.7,70.7 743.9,71.4 743.4,73.0 C742.9,74.5 741.0,75.8 737.4,75.5 C733.9,75.3 731.0,73.7 731.5,72.1Z" fill="#9bdbf7"/>
<path d="M739.1,86.6 C740.7,85.3 746.0,85.6 749.4,86.6 C752.7,87.6 751.7,88.7 750.2,90.0 C748.7,91.3 747.6,91.9 744.3,90.9 C740.9,89.8 737.6,87.9 739.1,86.6Z" fill="#9bdbf7"/>
<path d="M756.2,77.2 C755.4,74.2 759.1,73.5 763.0,75.5 C766.8,77.6 768.2,81.0 768.9,84.0 C769.7,87.1 769.4,87.8 765.5,85.7 C761.7,83.7 756.9,80.3 756.2,77.2Z" fill="#9bdbf7"/>
<path d="M757.9,94.6 C758.9,93.2 761.0,92.7 763.0,93.4 C764.9,94.1 765.4,95.4 764.3,96.8 C763.3,98.2 761.5,98.7 759.6,98.0 C757.6,97.3 756.9,96.0 757.9,94.6Z" fill="#9bdbf7"/>
<path d="M756.2,123.2 C756.4,119.9 759.2,116.9 761.3,116.4 C763.3,115.9 763.2,118.2 763.0,121.5 C762.7,124.8 762.5,126.9 760.4,127.4 C758.4,128.0 755.9,126.5 756.2,123.2Z" fill="#9bdbf7"/>
<path d="M766.4,128.3 C765.9,123.2 767.0,120.9 769.8,118.1 C772.6,115.3 773.7,116.9 775.7,118.9 C777.8,121.0 775.1,122.6 776.6,124.9 C778.1,127.2 779.6,123.5 780.9,126.6 C782.1,129.7 783.7,132.6 780.9,135.1 C778.0,137.7 775.8,137.1 771.5,135.1 C767.1,133.1 766.9,133.4 766.4,128.3Z" fill="#9bdbf7"/>
<path d="M756.2,138.5 C757.4,136.7 758.9,134.9 763.0,136.0 C767.1,137.0 768.5,138.5 769.8,141.9 C771.1,145.3 769.0,147.4 767.2,147.4 C765.4,147.4 766.4,143.5 763.8,141.9 C761.3,140.3 761.0,142.9 758.7,141.9 C756.4,140.9 754.9,140.3 756.2,138.5Z" fill="#9bdbf7"/>
<path d="M754.5,153.0 C755.0,151.4 756.9,150.0 758.7,151.3 C760.5,152.6 760.9,155.7 760.4,157.2 C759.9,158.8 758.8,157.7 757.0,156.4 C755.2,155.1 754.0,154.5 754.5,153.0Z" fill="#9bdbf7"/>
<path d="M774.0,158.1 C775.3,156.6 778.8,155.1 780.9,156.4 C782.9,157.7 782.1,160.8 780.9,162.3 C779.6,163.9 778.6,162.8 776.6,161.5 C774.6,160.2 772.8,159.6 774.0,158.1Z" fill="#9bdbf7"/>
<path d="M660.9,172.6 C661.6,171.0 664.5,169.8 666.8,170.9 C669.1,171.9 669.3,174.4 668.5,176.0 C667.7,177.5 666.6,177.0 664.3,176.0 C662.0,174.9 660.1,174.1 660.9,172.6Z" fill="#9bdbf7"/>
<path d="M683.0,206.6 C684.3,204.6 688.0,203.1 689.8,204.9 C691.6,206.7 690.2,210.5 688.9,212.6 C687.7,214.6 687.3,213.5 685.5,211.7 C683.7,209.9 681.7,208.6 683.0,206.6Z" fill="#9bdbf7"/>
<path d="M682.1,216.0 C682.8,214.6 684.3,213.8 685.5,214.6 C686.8,215.4 687.0,217.2 686.4,218.5 C685.7,219.8 684.6,219.8 683.3,219.0 C682.0,218.3 681.5,217.3 682.1,216.0Z" fill="#9bdbf7"/>
<path d="M747.7,227.0 C748.9,224.6 750.6,224.2 754.5,224.5 C758.3,224.7 759.9,225.3 760.4,227.9 C760.9,230.4 759.2,231.5 756.2,233.0 C753.1,234.4 752.8,234.4 750.2,232.6 C747.7,230.9 746.4,229.5 747.7,227.0Z" fill="#9bdbf7"/>
<path d="M758.7,256.8 C759.7,254.8 762.3,253.7 764.7,253.4 C767.1,253.1 767.7,253.9 766.7,256.0 C765.7,258.0 763.7,260.0 761.3,260.2 C758.9,260.5 757.7,258.9 758.7,256.8Z" fill="#9bdbf7"/>
<path d="M774.9,192.1 C775.9,190.3 779.1,188.6 780.9,190.4 C782.6,192.2 781.9,196.3 780.9,198.1 C779.8,199.9 779.2,198.2 777.4,196.4 C775.7,194.6 773.9,193.9 774.9,192.1Z" fill="#9bdbf7"/>
<path d="M774.2,157.1 C775.8,154.4 776.7,152.5 783.1,153.6 C789.5,154.6 791.0,157.5 795.5,160.7 C800.1,163.9 799.3,161.5 798.2,164.2 C797.1,166.9 796.5,168.5 792.0,169.5 C787.4,170.6 787.4,169.9 783.1,167.8 C778.8,165.6 780.4,165.6 777.8,162.4 C775.1,159.2 772.6,159.8 774.2,157.1Z" fill="#9bdbf7"/>
<path d="M802.6,153.6 C805.3,149.3 808.3,149.6 811.5,151.8 C814.7,153.9 813.8,155.9 813.3,160.7 C812.8,165.5 812.9,166.2 809.7,167.8 C806.5,169.4 804.8,170.3 802.6,166.0 C800.5,161.7 800.0,157.8 802.6,153.6Z" fill="#9bdbf7"/>
<path d="M796.4,245.9 C797.5,243.0 800.9,243.0 803.5,243.3 C806.2,243.5 806.4,243.9 805.3,246.8 C804.2,249.8 802.6,253.3 800.0,253.0 C797.3,252.8 795.4,248.9 796.4,245.9Z" fill="#9bdbf7"/>
<path d="M805.3,214.0 C807.4,211.6 808.2,211.0 813.3,208.6 C818.4,206.2 816.8,206.2 822.2,206.0 C827.5,205.7 826.3,206.4 831.1,207.7 C835.9,209.1 833.9,210.1 838.2,210.4 C842.4,210.7 841.5,207.6 845.3,208.6 C849.0,209.7 848.5,210.2 850.6,214.0 C852.7,217.7 849.7,216.8 852.4,221.1 C855.0,225.3 855.0,224.7 859.5,228.2 C864.0,231.6 864.8,229.7 867.5,232.6 C870.1,235.5 870.2,235.0 868.4,237.9 C866.5,240.9 866.1,239.7 861.3,242.4 C856.5,245.0 857.2,245.8 852.4,246.8 C847.6,247.9 849.0,247.8 845.3,245.9 C841.5,244.1 843.7,242.7 839.9,240.6 C836.2,238.5 837.1,238.6 832.8,238.8 C828.6,239.1 830.0,239.4 825.7,241.5 C821.5,243.6 822.4,245.7 818.6,245.9 C814.9,246.2 817.3,242.9 813.3,242.4 C809.3,241.8 809.3,245.2 805.3,244.2 C801.3,243.1 803.2,241.0 800.0,238.8 C796.8,236.7 796.0,239.2 794.6,237.0 C793.3,234.9 794.5,234.9 795.5,231.7 C796.6,228.5 796.1,229.1 798.2,226.4 C800.3,223.7 799.2,224.4 802.6,222.8 C806.1,221.2 808.7,222.9 809.7,221.1 C810.8,219.2 807.5,218.8 806.2,216.6 C804.9,214.5 803.2,216.4 805.3,214.0Z" fill="#0e9747"/>
<path d="M813.3,166.9 C814.4,164.5 815.6,163.5 820.4,162.4 C825.2,161.4 824.0,162.0 829.3,163.3 C834.6,164.7 834.7,166.1 838.2,166.9 C841.6,167.7 839.2,164.7 840.8,166.0 C842.4,167.3 840.0,168.7 843.5,171.3 C847.0,174.0 847.8,172.5 852.4,174.9 C856.9,177.3 856.5,176.1 858.6,179.3 C860.7,182.5 860.8,182.1 859.5,185.5 C858.2,189.0 853.6,187.1 854.2,190.9 C854.7,194.6 858.1,194.8 861.3,198.0 C864.5,201.2 865.3,198.9 864.8,201.5 C864.3,204.2 863.2,206.3 859.5,206.8 C855.8,207.4 855.6,202.8 852.4,203.3 C849.2,203.8 851.5,208.1 848.8,208.6 C846.2,209.2 846.2,207.7 843.5,205.1 C840.8,202.4 841.5,203.5 839.9,199.7 C838.3,196.0 840.3,193.7 838.2,192.6 C836.0,191.6 835.5,193.0 832.8,196.2 C830.2,199.4 832.5,201.4 829.3,203.3 C826.1,205.2 824.8,204.0 822.2,202.4 C819.5,200.8 819.3,200.9 820.4,198.0 C821.5,195.0 826.3,194.8 825.7,192.6 C825.2,190.5 819.7,193.0 818.6,190.9 C817.6,188.7 819.5,188.2 822.2,185.5 C824.8,182.9 828.0,184.1 827.5,182.0 C827.0,179.8 824.7,180.6 820.4,178.4 C816.1,176.3 814.4,177.3 813.3,174.9 C812.2,172.5 816.8,172.8 816.8,170.4 C816.8,168.0 812.2,169.3 813.3,166.9Z" fill="#0e9747"/>
<path d="M866.6,201.5 C866.6,198.6 869.4,198.1 873.7,194.4 C878.0,190.7 876.5,191.5 880.8,189.1 C885.1,186.7 882.8,187.0 887.9,186.4 C893.0,185.9 894.7,176.9 897.7,187.3 C900.6,197.7 899.5,209.9 897.7,221.1 C895.8,232.3 895.5,224.6 891.5,224.6 C887.5,224.6 887.6,223.7 884.4,221.1 C881.2,218.4 884.0,217.3 880.8,215.7 C877.6,214.1 875.0,217.3 873.7,215.7 C872.4,214.1 877.4,212.5 876.4,210.4 C875.3,208.3 870.9,210.5 870.1,208.6 C869.3,206.8 874.8,206.3 873.7,204.2 C872.6,202.1 866.6,204.5 866.6,201.5Z" fill="#0e9747"/>
<path d="M892.4,224.6 C896.3,224.1 896.1,216.4 897.7,228.2 C899.3,239.9 899.5,253.0 897.7,263.7 C895.8,274.4 894.9,265.3 891.5,263.7 C888.0,262.1 887.2,262.1 886.1,258.4 C885.1,254.6 886.0,254.7 887.9,251.3 C889.8,247.8 892.4,249.5 892.4,246.8 C892.4,244.2 888.4,245.8 887.9,242.4 C887.4,238.9 891.6,239.0 890.6,235.3 C889.5,231.5 883.8,233.1 884.4,229.9 C884.9,226.7 888.4,225.1 892.4,224.6Z" fill="#0e9747"/>
<path d="M852.1,140.0 L862.7,172.6 L872.2,172.6 L860.8,140.0 L851.8,107.4 L846.4,69.1 L844.1,50.0 L840.6,50.0 L842.6,69.1 L845.4,107.4 Z" fill="#7b4f29"/>
<path d="M810.0,72.6 L819.6,70.1 L827.2,67.6" stroke="#7b4f29" stroke-width="1.6" fill="none"/>
<path d="M823.4,79.7 L830.1,75.9" stroke="#7b4f29" stroke-width="1.4" fill="none"/>
<path d="M777.4,96.9 L783.2,91.2 L786.1,88.3" stroke="#7b4f29" stroke-width="1.8" fill="none"/>
<path d="M781.7,97.9 L782.8,92.1" stroke="#7b4f29" stroke-width="1.4" fill="none"/>
<path d="M828.2,111.3 L836.8,113.2 L846.4,121.8" stroke="#7b4f29" stroke-width="2.2" fill="none"/>
<path d="M833.0,53.8 C837.0,52.7 838.0,54.8 842.6,57.7 C847.2,60.5 847.7,59.4 848.3,63.4 C848.9,67.4 848.5,69.3 844.5,71.1 C840.5,72.8 839.5,72.0 834.9,69.1 C830.3,66.3 829.7,66.1 829.2,61.5 C828.6,56.9 829.0,55.0 833.0,53.8Z" fill="#0e9747"/>
<path d="M804.3,136.2 C806.3,132.7 806.0,132.7 810.0,130.4 C814.0,128.1 813.6,127.4 817.7,128.5 C821.7,129.7 822.3,130.2 823.4,134.3 C824.6,138.3 821.2,137.3 821.5,141.9 C821.8,146.5 824.9,145.0 824.4,149.6 C823.8,154.2 823.3,154.4 819.6,157.2 C815.8,160.1 815.7,160.3 811.9,159.2 C808.2,158.0 808.0,157.4 807.1,153.4 C806.3,149.4 810.2,149.2 809.0,145.7 C807.9,142.3 804.7,144.8 803.3,141.9 C801.9,139.0 802.2,139.6 804.3,136.2Z" fill="#0e9747"/>
<path d="M834.9,94.0 C837.8,91.2 839.5,91.0 846.4,92.1 C853.3,93.3 852.1,93.9 857.9,97.9 C863.6,101.9 864.4,101.5 865.5,105.5 C866.7,109.6 865.7,110.7 861.7,111.3 C857.7,111.9 857.9,109.2 852.1,107.4 C846.4,105.7 847.2,107.3 842.6,105.5 C838.0,103.8 839.1,105.2 836.8,101.7 C834.5,98.3 832.0,96.9 834.9,94.0Z" fill="#0e9747"/>
<path d="M834.9,122.8 C837.2,119.9 838.7,118.6 844.5,120.9 C850.2,123.2 850.0,125.3 854.0,130.4 C858.1,135.6 859.0,134.9 857.9,138.1 C856.7,141.2 854.8,142.1 850.2,141.0 C845.6,139.8 846.6,137.4 842.6,134.3 C838.5,131.1 839.1,133.9 836.8,130.4 C834.5,127.0 832.6,125.6 834.9,122.8Z" fill="#0e9747"/>
</g>
<!-- FOUNTAIN + POTS -->
<g id="fountain">
<ellipse cx="329" cy="594.5" rx="90.5" ry="25" fill="#b17f50"/>
<path d="M283.0,560.8 L311.7,560.8 L309.0,583.0 Q297.4,587.5 285.7,583.0 Z" fill="#d9673a"/>
<path d="M304.7,563.5 L311.7,563.5 L309.0,583.0 Q304.0,585.5 301.3,585.6 Z" fill="#c9572f"/>
<path d="M280.7,556.8 Q297.4,560.3 314.0,556.8 L313.0,563.5 Q297.4,567.0 281.7,563.5 Z" fill="#e07643"/>
<path d="M281.7,562.5 Q297.4,566.0 313.0,562.5 L313.0,563.5 Q297.4,567.0 281.7,563.5 Z" fill="#c9572f"/>
<ellipse cx="297.4" cy="557.3" rx="14.7" ry="3.2" fill="#4f6b2d"/>
<path d="M283.4,558.8 L276.9,544.8 L283.0,548.4 L281.0,544.7 L286.2,548.1 L285.1,543.2 L289.4,549.3 L289.2,540.7 L292.6,549.8 L293.3,539.5 L295.8,549.5 L297.3,538.5 L299.0,548.2 L301.4,540.7 L302.2,551.1 L305.5,540.9 L305.4,548.7 L309.6,543.5 L308.6,551.6 L313.7,544.4 L311.8,549.4 L317.8,546.7 L315.0,548.0 L311.3,558.8 Z" fill="#5d9140"/>
<path d="M285.7,557.8 L287.8,543.2 M288.6,557.8 L286.5,542.4 M291.5,557.8 L290.4,545.9 M294.4,557.8 L292.5,544.7 M297.4,557.8 L298.2,543.7 M300.3,557.8 L300.6,542.1 M303.2,557.8 L300.5,542.8 M306.1,557.8 L307.2,543.9 M309.0,557.8 L307.9,544.7 " stroke="#3f6a2d" stroke-width="1.1" fill="none"/>
<path d="M287.4,556.8 L287.0,541.3 M290.7,556.8 L293.0,543.3 M294.0,556.8 L292.0,542.7 M297.4,556.8 L297.6,544.2 M300.7,556.8 L302.5,541.2 M304.0,556.8 L307.9,540.4 M307.3,556.8 L306.7,543.6 " stroke="#86b04a" stroke-width="0.9" fill="none"/>
<path d="M278.5,545.7 l-1.9,-5.0 M283.9,545.0 l-1.4,-5.0 M289.3,542.8 l-0.8,-5.0 M294.7,542.8 l-0.3,-5.0 M300.0,543.0 l0.3,-5.0 M305.4,543.9 l0.8,-5.0 M310.8,545.8 l1.4,-5.0 M316.2,546.0 l1.9,-5.0 " stroke="#f2e31c" stroke-width="1.5" stroke-linecap="round" fill="none"/>
<path d="M340.0,557.3 L366.5,557.3 L364.0,578.0 Q353.2,582.5 342.5,578.0 Z" fill="#d9673a"/>
<path d="M360.0,559.7 L366.5,559.7 L364.0,578.0 Q359.4,580.5 356.9,580.6 Z" fill="#c9572f"/>
<path d="M337.9,553.6 Q353.2,557.1 368.6,553.6 L367.7,559.7 Q353.2,563.2 338.8,559.7 Z" fill="#e07643"/>
<path d="M338.8,558.7 Q353.2,562.2 367.7,558.7 L367.7,559.7 Q353.2,563.2 338.8,559.7 Z" fill="#c9572f"/>
<ellipse cx="353.2" cy="554.1" rx="13.5" ry="3.2" fill="#4f6b2d"/>
<path d="M340.4,555.6 L334.0,542.7 L340.0,547.0 L337.9,541.2 L343.0,546.4 L341.7,540.9 L345.9,548.4 L345.6,538.7 L348.9,547.3 L349.4,536.4 L351.8,547.4 L353.2,537.0 L354.8,548.6 L357.1,538.7 L357.7,545.7 L360.9,538.5 L360.7,547.3 L364.8,538.5 L363.6,546.4 L368.6,540.0 L366.6,545.1 L372.5,540.8 L369.5,547.7 L366.1,555.6 Z" fill="#5d9140"/>
<path d="M342.5,554.6 L340.3,539.8 M345.2,554.6 L344.5,543.0 M347.9,554.6 L345.4,540.8 M350.6,554.6 L350.9,543.0 M353.2,554.6 L355.2,542.9 M355.9,554.6 L354.6,540.7 M358.6,554.6 L357.8,543.0 M361.3,554.6 L364.1,539.4 M364.0,554.6 L362.1,539.8 " stroke="#3f6a2d" stroke-width="1.1" fill="none"/>
<path d="M344.0,553.6 L341.9,539.0 M347.1,553.6 L347.8,537.9 M350.2,553.6 L346.2,538.7 M353.2,553.6 L352.2,539.4 M356.3,553.6 L359.9,540.1 M359.4,553.6 L359.5,539.7 M362.5,553.6 L363.9,536.9 " stroke="#86b04a" stroke-width="0.9" fill="none"/>
<path d="M335.6,543.9 l-1.9,-5.0 M340.7,542.4 l-1.4,-5.0 M345.7,541.3 l-0.8,-5.0 M350.7,539.8 l-0.3,-5.0 M355.8,539.0 l0.3,-5.0 M360.8,540.3 l0.8,-5.0 M365.8,541.1 l1.4,-5.0 M370.9,543.4 l1.9,-5.0 " stroke="#f2e31c" stroke-width="1.5" stroke-linecap="round" fill="none"/>
<g id="ftn">
<path d="M320.4,581 L339.6,581 L339.6,592.5 L330,597.5 L320.4,592.5 Z" fill="#9a9d96"/>
<path d="M330,581 L339.6,581 L339.6,592.5 L330,597.5 Z" fill="#80837c"/>
<path d="M318,566 L339.5,566 L341,578 L317,578 Z" fill="#a7aaa3"/>
<path d="M316.5,576.5 Q328.5,581 341,576.5 L341,580.5 Q328.5,585 316.5,580.5 Z" fill="#4f5349"/>
<path d="M315.6,558 Q328.5,563 341.5,558 L341.5,566.5 Q328.5,572 315.6,566.5 Z" fill="#4f5349"/>
<polygon points="317.2,520 338.3,520 338.9,560 316.6,560" fill="#a7aaa3"/>
<polygon points="317.2,520 322,520 321.6,562 316.6,560" fill="#c6c8c2"/>
<polygon points="333.5,520 338.3,520 338.9,560 334,562" fill="#92958e"/>
<path d="M294,511 Q300,524 317,525.5 L339,525.5 Q356,524 362.5,511 Z" fill="#5b5f57"/>
<ellipse cx="328.1" cy="502" rx="50.7" ry="12.8" fill="#c9cbc6"/>
<ellipse cx="328.1" cy="499.6" rx="50.7" ry="12.4" fill="#edeeec"/>
<ellipse cx="328.1" cy="499.8" rx="36" ry="7.2" fill="#a9cfbf"/>
<ellipse cx="328.1" cy="499.6" rx="31.5" ry="5.8" fill="#8fcfd0"/>
<rect x="314" y="497.4" width="27" height="6" rx="1.5" fill="#4a4e47"/>
<path d="M305,489 Q308,497 315,499 L340.5,499 Q347,497 350,489 Z" fill="#595d56"/>
<ellipse cx="327.4" cy="485.2" rx="27.4" ry="6" fill="#b9bbb6"/>
<ellipse cx="327.4" cy="484.2" rx="27.4" ry="5.8" fill="#e4e5e2"/>
<ellipse cx="327.2" cy="483.3" rx="21.7" ry="3.7" fill="#a9d2c8"/>
<ellipse cx="327.2" cy="483.1" rx="18.5" ry="2.8" fill="#8fcfd0"/>
<rect x="324.9" y="476.4" width="3.8" height="6.6" rx="1" fill="#54574f"/>
<ellipse cx="325" cy="488.6" rx="2" ry="2.1" fill="#54574f"/>
</g>
<ellipse cx="269.5" cy="598.0" rx="14.3" ry="5.7" fill="#a52a22"/>
<ellipse cx="269.5" cy="598.5" rx="12.5" ry="4.4" fill="#e8e9ec"/>
<ellipse cx="269.5" cy="597.6" rx="11.3" ry="3.2" fill="#b9cdd6"/>
<path d="M255.6,575.9 L283.4,575.9 L280.8,599.0 Q269.5,603.5 258.2,599.0 Z" fill="#d9673a"/>
<path d="M276.6,578.5 L283.4,578.5 L280.8,599.0 Q276.0,601.5 273.4,601.6 Z" fill="#c9572f"/>
<path d="M253.3,572.0 Q269.5,575.5 285.7,572.0 L284.7,578.5 Q269.5,582.0 254.3,578.5 Z" fill="#e07643"/>
<path d="M254.3,577.5 Q269.5,581.0 284.7,577.5 L284.7,578.5 Q269.5,582.0 254.3,578.5 Z" fill="#c9572f"/>
<ellipse cx="269.5" cy="572.5" rx="14.3" ry="3.2" fill="#4f6b2d"/>
<path d="M255.9,574.0 L249.4,559.2 L255.6,563.3 L253.5,558.5 L258.7,563.6 L257.5,557.8 L261.8,563.2 L261.5,555.7 L264.9,563.6 L265.5,554.9 L268.0,564.5 L269.5,553.6 L271.1,566.5 L273.5,556.4 L274.2,563.6 L277.5,556.5 L277.3,564.4 L281.5,557.9 L280.5,563.5 L285.5,560.4 L283.6,567.0 L289.6,560.4 L286.7,564.9 L283.1,574.0 Z" fill="#5d9140"/>
<path d="M258.2,573.0 L255.7,557.5 M261.0,573.0 L260.1,558.3 M263.8,573.0 L265.8,557.8 M266.7,573.0 L263.8,561.8 M269.5,573.0 L269.7,557.7 M272.3,573.0 L272.6,557.1 M275.2,573.0 L275.3,561.9 M278.0,573.0 L280.2,560.5 M280.8,573.0 L279.4,558.8 " stroke="#3f6a2d" stroke-width="1.1" fill="none"/>
<path d="M259.8,572.0 L257.1,558.9 M263.0,572.0 L263.3,558.9 M266.3,572.0 L264.9,556.1 M269.5,572.0 L272.0,559.9 M272.7,572.0 L275.6,559.0 M276.0,572.0 L278.5,558.7 M279.2,572.0 L277.0,557.6 " stroke="#86b04a" stroke-width="0.9" fill="none"/>
<path d="M251.1,561.3 l-1.9,-5.0 M256.3,559.3 l-1.4,-5.0 M261.6,558.0 l-0.8,-5.0 M266.9,557.2 l-0.3,-5.0 M272.1,557.2 l0.3,-5.0 M277.4,559.3 l0.8,-5.0 M282.7,561.2 l1.4,-5.0 M287.9,561.4 l1.9,-5.0 " stroke="#f2e31c" stroke-width="1.5" stroke-linecap="round" fill="none"/>
<ellipse cx="379.4" cy="591.6" rx="14.7" ry="5.8" fill="#a52a22"/>
<ellipse cx="379.4" cy="592.1" rx="12.8" ry="4.5" fill="#e8e9ec"/>
<ellipse cx="379.4" cy="591.2" rx="11.7" ry="3.3" fill="#b9cdd6"/>
<path d="M365.0,570.5 L393.7,570.5 L391.0,592.6 Q379.4,597.1 367.7,592.6 Z" fill="#d9673a"/>
<path d="M386.7,573.2 L393.7,573.2 L391.0,592.6 Q386.0,595.1 383.3,595.2 Z" fill="#c9572f"/>
<path d="M362.7,566.5 Q379.4,570.0 396.0,566.5 L395.0,573.2 Q379.4,576.7 363.7,573.2 Z" fill="#e07643"/>
<path d="M363.7,572.2 Q379.4,575.7 395.0,572.2 L395.0,573.2 Q379.4,576.7 363.7,573.2 Z" fill="#c9572f"/>
<ellipse cx="379.4" cy="567.0" rx="14.7" ry="3.2" fill="#4f6b2d"/>
<path d="M365.4,568.5 L358.9,556.3 L365.0,561.5 L363.0,555.3 L368.2,559.0 L367.1,552.0 L371.4,558.4 L371.2,550.8 L374.6,558.3 L375.3,551.0 L377.8,561.1 L379.3,550.5 L381.0,559.4 L383.4,551.1 L384.2,560.7 L387.5,550.5 L387.4,560.1 L391.6,554.0 L390.6,560.6 L395.7,554.7 L393.8,559.4 L399.8,554.0 L397.0,560.7 L393.3,568.5 Z" fill="#5d9140"/>
<path d="M367.7,567.5 L366.7,555.5 M370.6,567.5 L373.4,553.5 M373.5,567.5 L372.9,556.2 M376.4,567.5 L377.8,552.4 M379.4,567.5 L377.1,552.3 M382.3,567.5 L384.7,555.5 M385.2,567.5 L383.1,555.6 M388.1,567.5 L391.0,554.8 M391.0,567.5 L390.1,554.2 " stroke="#3f6a2d" stroke-width="1.1" fill="none"/>
<path d="M369.4,566.5 L366.4,549.6 M372.7,566.5 L376.5,552.7 M376.0,566.5 L376.2,554.2 M379.4,566.5 L378.8,553.9 M382.7,566.5 L385.3,550.6 M386.0,566.5 L384.0,551.0 M389.3,566.5 L387.3,552.4 " stroke="#86b04a" stroke-width="0.9" fill="none"/>
<path d="M360.5,555.6 l-1.9,-5.0 M365.9,554.6 l-1.4,-5.0 M371.3,552.7 l-0.8,-5.0 M376.7,553.0 l-0.3,-5.0 M382.0,551.9 l0.3,-5.0 M387.4,553.4 l0.8,-5.0 M392.8,554.9 l1.4,-5.0 M398.2,556.9 l1.9,-5.0 " stroke="#f2e31c" stroke-width="1.5" stroke-linecap="round" fill="none"/>
<ellipse cx="305.4" cy="605.6" rx="15.3" ry="6.1" fill="#a52a22"/>
<ellipse cx="305.4" cy="606.1" rx="13.4" ry="4.7" fill="#e8e9ec"/>
<ellipse cx="305.4" cy="605.2" rx="12.2" ry="3.5" fill="#b9cdd6"/>
<path d="M290.4,584.7 L320.4,584.7 L317.6,606.6 Q305.4,611.1 293.2,606.6 Z" fill="#d9673a"/>
<path d="M313.1,587.5 L320.4,587.5 L317.6,606.6 Q312.4,609.1 309.6,609.2 Z" fill="#c9572f"/>
<path d="M288.0,580.5 Q305.4,584.0 322.8,580.5 L321.8,587.5 Q305.4,591.0 289.0,587.5 Z" fill="#e07643"/>
<path d="M289.0,586.5 Q305.4,590.0 321.8,586.5 L321.8,587.5 Q305.4,591.0 289.0,587.5 Z" fill="#c9572f"/>
<ellipse cx="305.4" cy="581.0" rx="15.3" ry="3.2" fill="#4f6b2d"/>
<path d="M290.8,582.5 L284.2,568.8 L290.4,575.2 L288.4,567.9 L293.8,573.6 L292.7,566.9 L297.1,571.6 L296.9,565.5 L300.5,572.2 L301.2,563.1 L303.8,574.7 L305.4,562.5 L307.1,573.4 L309.6,565.3 L310.5,573.7 L313.9,565.2 L313.8,573.6 L318.1,567.0 L317.2,574.6 L322.4,566.7 L320.5,573.7 L326.6,568.2 L323.8,572.6 L320.0,582.5 Z" fill="#5d9140"/>
<path d="M293.2,581.5 L294.9,568.0 M296.3,581.5 L296.6,569.3 M299.3,581.5 L301.8,567.7 M302.4,581.5 L303.0,568.0 M305.4,581.5 L305.5,569.0 M308.4,581.5 L308.2,568.2 M311.5,581.5 L311.4,570.2 M314.5,581.5 L315.7,569.9 M317.6,581.5 L320.2,566.8 " stroke="#3f6a2d" stroke-width="1.1" fill="none"/>
<path d="M295.0,580.5 L295.4,568.2 M298.4,580.5 L301.2,564.2 M301.9,580.5 L298.9,565.7 M305.4,580.5 L302.0,564.7 M308.9,580.5 L305.5,566.8 M312.4,580.5 L314.6,568.0 M315.8,580.5 L313.1,567.1 " stroke="#86b04a" stroke-width="0.9" fill="none"/>
<path d="M285.8,570.4 l-1.9,-5.0 M291.4,568.0 l-1.4,-5.0 M297.0,568.2 l-0.8,-5.0 M302.6,567.1 l-0.3,-5.0 M308.2,565.6 l0.3,-5.0 M313.8,568.4 l0.8,-5.0 M319.4,568.5 l1.4,-5.0 M325.0,570.0 l1.9,-5.0 " stroke="#f2e31c" stroke-width="1.5" stroke-linecap="round" fill="none"/>
<ellipse cx="349.8" cy="607.7" rx="15.2" ry="6.0" fill="#a52a22"/>
<ellipse cx="349.8" cy="608.2" rx="13.3" ry="4.7" fill="#e8e9ec"/>
<ellipse cx="349.8" cy="607.3" rx="12.1" ry="3.5" fill="#b9cdd6"/>
<path d="M334.9,585.7 L364.6,585.7 L361.8,608.7 Q349.8,613.2 337.7,608.7 Z" fill="#d9673a"/>
<path d="M357.3,588.5 L364.6,588.5 L361.8,608.7 Q356.6,611.2 353.9,611.3 Z" fill="#c9572f"/>
<path d="M332.5,581.6 Q349.8,585.1 367.0,581.6 L366.0,588.5 Q349.8,592.0 333.5,588.5 Z" fill="#e07643"/>
<path d="M333.5,587.5 Q349.8,591.0 366.0,587.5 L366.0,588.5 Q349.8,592.0 333.5,588.5 Z" fill="#c9572f"/>
<ellipse cx="349.8" cy="582.1" rx="15.2" ry="3.2" fill="#4f6b2d"/>
<path d="M335.3,583.6 L328.7,571.6 L334.9,575.9 L332.9,568.0 L338.2,574.3 L337.1,567.9 L341.5,574.0 L341.3,565.9 L344.9,573.9 L345.5,566.4 L348.2,572.7 L349.8,564.8 L351.5,574.4 L354.0,564.3 L354.8,573.9 L358.2,567.2 L358.1,574.6 L362.4,566.6 L361.4,576.5 L366.6,569.9 L364.7,576.5 L370.8,568.9 L368.0,573.7 L364.2,583.6 Z" fill="#5d9140"/>
<path d="M337.7,582.6 L334.9,570.5 M340.7,582.6 L339.3,567.2 M343.7,582.6 L343.2,571.2 M346.7,582.6 L348.6,567.9 M349.8,582.6 L347.6,571.2 M352.8,582.6 L353.2,570.1 M355.8,582.6 L353.3,566.9 M358.8,582.6 L359.9,568.7 M361.8,582.6 L359.3,571.3 " stroke="#3f6a2d" stroke-width="1.1" fill="none"/>
<path d="M339.4,581.6 L340.5,568.6 M342.8,581.6 L339.5,568.9 M346.3,581.6 L342.8,568.9 M349.8,581.6 L349.4,566.3 M353.2,581.6 L353.6,569.2 M356.6,581.6 L354.8,565.2 M360.1,581.6 L360.3,565.8 " stroke="#86b04a" stroke-width="0.9" fill="none"/>
<path d="M330.3,570.4 l-1.9,-5.0 M335.9,569.2 l-1.4,-5.0 M341.4,567.7 l-0.8,-5.0 M347.0,566.7 l-0.3,-5.0 M352.5,566.9 l0.3,-5.0 M358.1,568.2 l0.8,-5.0 M363.6,570.4 l1.4,-5.0 M369.2,570.7 l1.9,-5.0 " stroke="#f2e31c" stroke-width="1.5" stroke-linecap="round" fill="none"/>
</g>
<!-- POND -->
<g id="pond">
<path d="M702.3,497.0 C701.2,494.4 709.0,488.5 710.1,485.9 C711.2,483.2 708.2,482.7 709.0,481.4 C709.7,480.1 714.4,479.9 714.6,478.0 C714.8,476.2 709.4,472.1 710.1,470.2 C710.9,468.4 716.8,468.2 719.0,466.9 C721.3,465.6 721.7,463.9 723.5,462.4 C725.4,460.9 727.8,459.6 730.2,457.9 C732.6,456.3 735.1,453.8 738.0,452.3 C741.0,450.9 743.8,450.3 748.1,449.0 C752.4,447.7 758.5,445.6 763.7,444.5 C768.9,443.4 774.2,443.2 779.4,442.3 C784.6,441.4 789.0,439.1 795.0,438.9 C801.0,438.8 809.5,440.6 815.1,441.2 C820.7,441.7 823.3,441.7 828.5,442.3 C833.7,442.8 840.4,444.0 846.4,444.5 C852.3,445.1 858.3,445.8 864.3,445.6 C870.2,445.5 876.6,443.4 882.1,443.4 C887.7,443.4 895.2,432.6 897.8,445.6 C900.4,458.7 900.4,509.1 897.8,521.6 C895.2,534.1 887.0,522.0 882.1,520.5 C877.3,519.0 873.2,513.4 868.7,512.7 C864.3,511.9 859.4,516.2 855.3,516.0 C851.2,515.8 848.6,511.9 844.2,511.5 C839.7,511.2 834.1,513.6 828.5,513.8 C822.9,514.0 816.2,513.0 810.6,512.7 C805.1,512.3 800.2,511.5 795.0,511.5 C789.8,511.5 785.0,513.0 779.4,512.7 C773.8,512.3 766.3,510.4 761.5,509.3 C756.7,508.2 754.8,506.3 750.3,506.0 C745.9,505.6 739.9,506.9 734.7,507.1 C729.5,507.3 722.0,508.0 719.0,507.1 C716.1,506.1 719.6,503.2 716.8,501.5 C714.0,499.8 703.4,499.6 702.3,497.0Z" fill="#a6a7ba"/>
<polygon points="742.5,479.6 749.2,482.5 758.1,491.4 750.3,493.0 744.7,487.0" fill="#b0835a"/>
<path d="M745.9,479.2 C747.6,476.5 750.3,474.0 754.8,471.3 C759.3,468.7 762.4,467.8 768.2,465.7 C774.0,463.7 778.0,462.6 783.8,461.3 C789.6,459.9 791.0,460.2 797.2,459.0 C803.5,457.9 808.0,456.8 815.1,455.7 C822.3,454.6 825.8,453.7 833.0,453.5 C840.1,453.2 844.2,453.9 850.9,454.6 C857.6,455.2 860.7,455.0 866.5,456.8 C872.3,458.6 873.6,460.6 879.9,463.5 C886.2,466.4 894.2,463.3 897.8,471.3 C901.3,479.4 900.5,498.6 897.8,503.7 C895.1,508.9 889.3,497.9 884.4,497.0 C879.5,496.1 878.1,498.6 873.2,499.3 C868.3,499.9 865.2,499.3 859.8,500.4 C854.4,501.5 852.6,503.7 846.4,504.8 C840.1,506.0 835.7,506.0 828.5,506.0 C821.4,506.0 816.9,505.3 810.6,504.8 C804.4,504.4 801.3,505.3 797.2,503.7 C793.2,502.2 794.1,499.0 790.5,497.0 C787.0,495.0 784.7,494.6 779.4,493.7 C774.0,492.8 768.6,493.2 763.7,492.6 C758.8,491.9 758.4,491.9 754.8,490.3 C751.2,488.8 747.6,487.0 745.9,484.7 C744.1,482.5 744.1,481.8 745.9,479.2Z" fill="#c3dfc9"/>
<path d="M757.0,478.0 C757.7,474.9 761.3,472.4 767.1,470.2 C772.9,468.0 778.2,468.2 786.1,466.9 C793.9,465.5 798.6,464.6 806.2,463.5 C813.8,462.4 816.0,461.5 824.0,461.3 C832.1,461.1 837.5,461.7 846.4,462.4 C855.3,463.1 861.1,462.8 868.7,464.6 C876.3,466.4 878.6,469.3 884.4,471.3 C890.2,473.3 895.1,470.0 897.8,474.7 C900.5,479.4 900.5,491.2 897.8,494.8 C895.1,498.4 890.2,492.3 884.4,492.6 C878.6,492.8 875.4,494.6 868.7,495.9 C862.0,497.2 858.0,497.9 850.9,499.3 C843.7,500.6 840.1,502.2 833.0,502.6 C825.8,503.1 821.4,501.9 815.1,501.5 C808.9,501.0 805.7,501.9 801.7,500.4 C797.7,498.8 799.5,495.9 795.0,493.7 C790.5,491.4 785.6,490.8 779.4,489.2 C773.1,487.6 768.2,488.1 763.7,485.9 C759.3,483.6 756.4,481.2 757.0,478.0Z" fill="#99ccc8"/>
<polygon points="700.1,496.8 709.0,487.7 722.9,486.0 739.3,483.4 748.1,486.7 735.5,493.5 717.8,501.9" fill="#c8c9da"/>
<polygon points="708.6,483.4 717.4,478.8 732.5,476.3 745.2,479.6 741.4,485.4 722.4,485.9" fill="#c8c9da"/>
<polygon points="708.6,470.0 719.4,467.0 729.5,468.3 735.8,472.1 725.7,475.8 713.1,476.6" fill="#c8c9da"/>
<polygon points="721.9,462.6 730.7,458.1 742.1,460.6 738.3,465.6 728.2,466.9" fill="#c8c9da"/>
<polygon points="737.2,452.5 748.3,449.0 757.9,451.5 755.4,457.8 742.8,460.3 736.4,457.8" fill="#c8c9da"/>
<polygon points="738.7,462.9 752.6,459.1 758.9,462.9 750.1,469.2 741.2,469.2" fill="#c8c9da"/>
<polygon points="757.3,452.3 762.3,444.7 778.7,442.2 783.8,447.2 776.2,452.3 764.9,454.3" fill="#c8c9da"/>
<polygon points="755.4,458.5 766.8,455.4 778.2,457.2 768.1,463.0 758.0,463.5" fill="#c8c9da"/>
<polygon points="778.1,453.0 788.2,449.2 795.7,451.7 788.2,456.7 776.8,456.7" fill="#c8c9da"/>
<polygon points="782.2,442.8 794.8,439.0 802.4,442.8 797.3,447.9 787.2,447.9" fill="#c8c9da"/>
<polygon points="804.9,441.5 815.0,441.5 821.3,445.3 813.7,447.8 806.1,446.5" fill="#c8c9da"/>
<polygon points="809.1,449.6 821.7,447.1 826.8,450.9 816.7,453.4" fill="#c8c9da"/>
<polygon points="825.8,446.1 832.1,441.8 844.7,444.4 847.2,449.9 837.2,452.4 828.3,451.2" fill="#c8c9da"/>
<polygon points="845.0,445.3 856.4,444.3 862.7,448.6 853.9,452.4 846.3,451.1" fill="#c8c9da"/>
<polygon points="859.8,445.5 868.6,444.5 871.1,448.0 863.6,449.5" fill="#c8c9da"/>
<polygon points="870.7,451.8 877.0,446.2 884.6,448.0 887.1,455.5 879.6,459.3 873.2,456.8" fill="#c8c9da"/>
<polygon points="880.5,442.8 898.1,445.3 898.1,452.4 888.0,451.1" fill="#c8c9da"/>
<polygon points="885.3,456.9 897.9,455.7 897.9,468.3 890.3,465.8" fill="#c8c9da"/>
<polygon points="717.2,506.2 731.1,496.1 750.0,492.3 755.0,496.1 748.7,504.9 733.6,506.2" fill="#c8c9da"/>
<polygon points="746.8,504.7 754.3,493.3 772.0,492.0 789.7,494.6 797.2,503.4 792.2,509.7 779.6,512.2 759.4,508.5" fill="#c8c9da"/>
<polygon points="794.1,506.6 799.1,501.6 814.2,502.9 834.4,504.1 844.5,506.6 829.4,512.4 809.2,511.7" fill="#c8c9da"/>
<polygon points="841.6,509.1 854.2,500.3 866.8,499.0 873.1,507.8 869.3,511.6 855.5,514.9" fill="#c8c9da"/>
<polygon points="866.3,502.6 881.4,495.0 899.1,502.6 899.1,520.2 882.7,520.2 875.1,511.4" fill="#c8c9da"/>
<ellipse cx="849.7" cy="475.1" rx="7" ry="1.9" fill="#169a48"/>
<ellipse cx="868.7" cy="482.5" rx="10.7" ry="3.6" fill="#169a48"/>
<path d="M845.5,489.2 A8.5,2.6 0 1 0 862.3,489 L853,487.5 Z" fill="#169a48"/>
<path d="M801,481 L792,423 M802,481 L799,440 L802.5,401.7 M803.2,481 L805,423 M804.2,481 L811,435 L821.7,400.4 M805,481 L815,425 M806.2,481 L822.5,447 M800.5,478 L796,440" stroke="#169a48" stroke-width="1.3" fill="none" stroke-linecap="round"/>
</g>
<!-- TIRE -->
<g id="tire">
<rect x="777" y="254" width="1.9" height="96" fill="#7b6a5b"/>
<ellipse cx="777" cy="365.6" rx="23.9" ry="24" fill="#3b3b50"/>
<path d="M777,389.6 A23.9,24 0 0 1 753.1,365.6 A23.9,24 0 0 1 760,348.5 A26,27 0 0 0 777,389.6Z" fill="#2c2c3d"/>
<ellipse cx="777.2" cy="364.8" rx="15.2" ry="15.6" fill="#2a2a3a"/>
<ellipse cx="775.9" cy="364.5" rx="13.7" ry="14.2" fill="#b17f50"/>
<path d="M776.4,341.5 L779.5,341.5 L780,351.5 L776,351.5Z" fill="#7b6a5b"/>
</g>
<!-- BUCKET -->
<g id="bucket">
<path d="M511.2,436.6 L537.4,436.6 L533.6,461 Q524.3,466.5 515,461 Z" fill="#f4f4f6"/>
<path d="M530,438 L537.4,436.6 L533.6,461 Q531,463 527.5,464 Z" fill="#dcdde2"/>
<ellipse cx="524.3" cy="436.6" rx="13.1" ry="3.6" fill="#fff"/>
<ellipse cx="524.3" cy="436.8" rx="11.6" ry="2.7" fill="#c5ddd6"/>
<path d="M511.5,440.5 Q524.3,446 537.1,440.5" stroke="#d0d1d8" stroke-width="1.2" fill="none"/>
<path d="M512.5,441 Q516,455 528,446" stroke="#b9bac3" stroke-width="0.9" fill="none"/>
</g>
<!-- HOSE -->
<g id="hose">
<rect x="621" y="380.9" width="18.6" height="13.4" rx="2" fill="#d3dde4"/>
<ellipse cx="636.4" cy="410.9" rx="18" ry="18.6" fill="none" stroke="#2f8376" stroke-width="5.6"/>
<ellipse cx="636.4" cy="410.9" rx="18.6" ry="19.2" fill="none" stroke="#55b0a0" stroke-width="1.6"/>
<ellipse cx="636.9" cy="410.9" rx="16.4" ry="17" fill="none" stroke="#66bfae" stroke-width="1.1"/>
<ellipse cx="637.5" cy="412.5" rx="14.5" ry="16" fill="none" stroke="#3b9a8a" stroke-width="1.4"/>
<path d="M623.5,424 L629,432.5" stroke="#2f8376" stroke-width="2.4" fill="none"/>
<path d="M629,432 L632.6,436.6" stroke="#fff" stroke-width="2.2" fill="none"/>
<path d="M626.2,387.3 Q626.2,385.3 628.2,385.3 L643.3,385.3 Q645.3,385.3 645.3,387.3 L645.3,398.5 L626.2,401.3 Z" fill="#e2eaf0"/>
<!-- puddle -->
<path d="M618,440.5 C622,436 640,436 655,434 C668,432 678,433.5 690,431.5 C694,433 688,436 692,438.5 C680,442 660,440 645,441.5 C635,443 622,444 618,440.5Z" fill="none" stroke="#b5683f" stroke-width="0.9"/>
<path d="M624,440 L660,437.5 M640,441 L682,438 M650,435.5 L676,434" stroke="#cdd3c6" stroke-width="1.2" stroke-dasharray="2.5 1.4" fill="none"/>
<path d="M680,432.5 q5,-2 9,0" stroke="#d8c9b5" stroke-width="1" fill="none"/>
</g>
<!-- WAGON -->
<g id="wagon">
<polygon points="690,572 758,598 792,585 740,562" fill="#c3c3be"/>
<!-- back wheels -->
<ellipse cx="715.7" cy="563.3" rx="8" ry="9" fill="#231f20"/>
<ellipse cx="716" cy="563.3" rx="5" ry="6.2" fill="#fff"/>
<ellipse cx="778.7" cy="574" rx="9.2" ry="10.4" fill="#231f20"/>
<ellipse cx="778.9" cy="574" rx="6" ry="7.4" fill="#fff"/>
<!-- axle/frames -->
<path d="M686,572 L693,553 M688,571 L712,558 M693,553 L700,557" stroke="#231f20" stroke-width="1.7" fill="none"/>
<path d="M751,587 C755,575 762,571.5 770,572.5 L784,578.5" stroke="#231f20" stroke-width="3.2" fill="none"/>
<path d="M757,572.5 L781,571.5" stroke="#231f20" stroke-width="3.2" fill="none"/>
<!-- handle -->
<path d="M784,578 L822,590.5 L877,596.5" stroke="#231f20" stroke-width="1.8" fill="none" stroke-linejoin="round"/>
<rect x="876.4" y="592.8" width="6.4" height="6.6" fill="#d6d6d1" stroke="#231f20" stroke-width="1.6" transform="rotate(-8 879.5 596)"/>
<!-- body -->
<path d="M683.5,538.6 Q683,537.6 685,537 L704,532.6 Q706,532.2 708,532.6 L780.5,547.8 Q782.5,548.4 782,550 L779,560.3 Q778.6,561.6 777,562.2 L758.5,568.6 Q757,569.2 755,568.7 L687.5,552.9 Q685.7,552.5 685.4,551 Z" fill="#ac2029"/>
<polygon points="760.8,557.4 782,548.8 779,560.8 757.3,568.8" fill="#8d1820"/>
<path d="M683.5,538.6 Q683,537.6 685,537 L704,532.6 Q706,532.2 708,532.6 L780.5,547.8 Q782.5,548.4 781,549.4 L762,557.2 Q760.8,557.7 759,557.3 L685,540 Z" fill="#c0333b"/>
<polygon points="688,538.9 706,534.5 777,549.2 760.4,555.6" fill="#8d1820"/>
<polygon points="688,538.9 706,534.5 708,537.5 726,546" fill="#a11d26"/>
<polygon points="724,546.3 742,543.3 775,550.2 760.4,555.6" fill="#9fcfd3"/>
<!-- front wheels -->
<ellipse cx="685" cy="572.2" rx="8.6" ry="10.4" fill="#231f20"/>
<ellipse cx="685.2" cy="572.2" rx="5.6" ry="7.4" fill="#fff"/>
<circle cx="684.7" cy="572.4" r="1.7" fill="#e0232a"/>
<ellipse cx="749.9" cy="588.6" rx="9.4" ry="11.2" fill="#231f20"/>
<ellipse cx="750.1" cy="588.6" rx="6.2" ry="8" fill="#fff"/>
<circle cx="749.6" cy="588.9" r="1.8" fill="#e0232a"/>
</g>
<!-- BOWLS -->
<g id="bowls">
<path d="M422.9,667.6 L456.3,667.6 L455.5,676.5 Q439.6,685 423.7,676.5 Z" fill="#28369a"/>
<ellipse cx="439.6" cy="667.6" rx="16.7" ry="5.8" fill="#2e3fae"/>
<ellipse cx="439.6" cy="667.9" rx="13.6" ry="4.1" fill="#9ccfd2"/>
<path d="M400.2,680.8 L437.2,680.8 L436.3,691 Q418.7,700.5 401.1,691 Z" fill="#dd2229"/>
<ellipse cx="418.7" cy="680.8" rx="18.5" ry="6.3" fill="#ea2b32"/>
<ellipse cx="418.7" cy="681.1" rx="15.3" ry="4.5" fill="#8c6b3c"/>
<path d="M406,681 h3 M411,679.5 h3 M416,682 h3 M421,680 h3 M426,682 h3 M412,683.5 h3 M422,684 h3 M428,680 h2" stroke="#c49a5c" stroke-width="1" fill="none"/>
</g>
<!-- PUDDLE -->
<g id="puddle">
<path d="M184.5,666 C195,661 215,661 232,660 C245,659 252,660.5 260,662.5 C255,667 240,667 225,667.5 C210,668.5 192,670 184.5,666Z" fill="#ddded6" stroke="#b07a4a" stroke-width="0.9"/>
<path d="M190,656.5 C197,655 208,656.5 214,655.5 C212,658.5 200,659.5 190,656.5Z" fill="#ddded6" stroke="#b07a4a" stroke-width="0.8"/>
<path d="M246,656.5 q5,-1.5 10,0.5" stroke="#d8d2c0" stroke-width="1.2" fill="none"/>
<path d="M192,665 L250,662.5" stroke="#a9b5a5" stroke-width="1.3" stroke-dasharray="2 1.3" fill="none"/>
</g>
<!-- ROT HOLE -->
<g id="rothole">
<ellipse cx="883.8" cy="304.7" rx="7.7" ry="11.6" fill="#a9733f"/>
<ellipse cx="884.3" cy="304.9" rx="5.7" ry="9.6" fill="#17110c"/>
<ellipse cx="882.6" cy="305" rx="1.3" ry="1.1" fill="none" stroke="#fff" stroke-width="0.7"/>
<ellipse cx="886" cy="305" rx="1.3" ry="1.1" fill="none" stroke="#fff" stroke-width="0.7"/>
</g>
<!-- FOREGROUND ROOF + GUTTER -->
<g id="gutter">
<!-- downspout -->
<path d="M131.8,636 L161,624 L161,650 L152,672 L43,716 L43,692 L128,660 L132,652 Z" fill="#fff"/>
<path d="M131.8,640 L137,638 L137,653 L131,664 L43,698 L43,692 L128,660 L132,652 Z" fill="#dfe0e0"/>
<path d="M155,628 L161,625.5 L161,650 L152,672 L147,674 L155,652 Z" fill="#e1e1e3"/>
<polygon points="143,654 152,651.5 146,656.5" fill="#d4d4d6"/>
<polygon points="139,664 149,662 142,667" fill="#d4d4d6"/>
<polygon points="133,673 144,671.5 136,676" fill="#d4d4d6"/>
<!-- fascia / shade under gutter -->
<polygon points="43,679 70,668.5 70,673.5 43,692" fill="#dcdcdc"/>
<!-- gutter interior -->
<polygon points="43,625 199,566.5 257,569.3 43,654" fill="#b4d3cb"/>
<polygon points="43,640 60,634 70,640 43,652" fill="#9fd3dc"/>
<!-- roof -->
<polygon points="43,428 215,557.6 43,627.2" fill="#69695b"/>
<polygon points="215,557.6 215.5,559.6 43,629.6 43,626.6" fill="#2d2d28"/>
<!-- leaves in gutter -->
<!-- gutter face -->
<path d="M43,653 L257,569.3 C255,580 248,592 238,598.5 C230,603 220,606 211,608.8 L43,681 Z" fill="#fdfdfd"/>
<path d="M43,676 L211,606 C222,602.5 232,599.5 239,595 L238,598.5 C230,603 220,606 211,608.8 L43,681 Z" fill="#e3e3e5"/>
<clipPath id="gclip"><polygon points="43,618 199,560 246,565.5 236,581 43,661"/></clipPath>
<g id="gleaves" clip-path="url(#gclip)">
<g transform="translate(-9,4)" opacity="0.95">
<g fill="#d7a864">
<path d="M205,569 l5,-3 l3,2 l5,-2 l2,3 l6,-1 l-3,4 l-7,2 l-6,3 l-5,-2z"/>
<path d="M186,580 l4,-6 l3,3 l4,-4 l2,5 l5,-2 l-2,6 l-6,3 l-8,3z"/>
<path d="M160,590 l5,-6 l2,4 l5,-4 l1,5 l5,-1 l-3,6 l-7,3 l-8,2z"/>
<path d="M120,606 l4,-7 l3,4 l4,-5 l2,6 l5,-2 l-2,6 l-7,3 l-9,3z"/>
<path d="M98,616 l5,-7 l2,4 l5,-4 l1,5 l5,-1 l-3,6 l-7,3 l-9,3z"/>
<path d="M80,624 l4,-6 l3,3 l4,-4 l2,5 l4,-1 l-3,5 l-6,3 l-8,3z"/>
<path d="M52,640 l4,-5 l3,3 l4,-4 l1,4 l4,-1 l-3,5 l-6,2 l-7,3z"/>
</g>
<g fill="#a8794a">
<path d="M215,566 l6,0 l5,2 l-4,3 l-6,1z"/>
<path d="M172,582 l5,-5 l3,5 l5,-2 l-3,6 l-8,3z"/>
<path d="M137,597 l6,-6 l2,5 l5,-3 l-2,6 l-9,4z"/>
<path d="M110,611 l2,-8 l4,5 l4,-3 l-2,7 l-8,4z"/>
<path d="M66,631 l5,-5 l3,4 l4,-2 l-3,6 l-8,3z"/>
</g>
<g fill="#169a48">
<path d="M226,567 l2,-6 l3,4 l3,-5 l2,6 l5,-3 l-1,6 l-7,3 l-6,1z"/>
<path d="M197,577 l1,-7 l3,4 l3,-6 l2,6 l5,-3 l-1,6 l4,0 l-6,5 l-9,2z"/>
<path d="M178,587 l-2,-6 l4,2 l1,-6 l4,5 l3,-5 l2,6 l4,-1 l-4,6 l-8,3z"/>
<path d="M150,597 l-1,-7 l4,3 l2,-6 l3,6 l4,-3 l0,6 l4,0 l-5,5 l-8,3z"/>
<path d="M104,614 l-1,-7 l4,3 l2,-6 l3,6 l4,-3 l0,6 l4,0 l-5,5 l-8,3z"/>
<path d="M86,622 l-2,-6 l4,2 l1,-6 l4,5 l3,-4 l1,6 l4,-1 l-4,6 l-8,3z"/>
<path d="M63,632 l-1,-6 l3,2 l2,-5 l3,5 l3,-3 l0,5 l4,0 l-5,5 l-7,2z"/>
<path d="M46,646 l0,-6 l3,3 l2,-5 l2,5 l4,-2 l-1,5 l-6,4 l-4,1z"/>
</g>
<path d="M197,562 l5,9 M205,561 l-4,10 M117,600 l8,6 M128,598 l-5,9" stroke="#8a6a45" stroke-width="1.1" fill="none"/>
</g>
<g transform="translate(3,8)">
<g fill="#d7a864">
<path d="M205,569 l5,-3 l3,2 l5,-2 l2,3 l6,-1 l-3,4 l-7,2 l-6,3 l-5,-2z"/>
<path d="M186,580 l4,-6 l3,3 l4,-4 l2,5 l5,-2 l-2,6 l-6,3 l-8,3z"/>
<path d="M160,590 l5,-6 l2,4 l5,-4 l1,5 l5,-1 l-3,6 l-7,3 l-8,2z"/>
<path d="M120,606 l4,-7 l3,4 l4,-5 l2,6 l5,-2 l-2,6 l-7,3 l-9,3z"/>
<path d="M98,616 l5,-7 l2,4 l5,-4 l1,5 l5,-1 l-3,6 l-7,3 l-9,3z"/>
<path d="M80,624 l4,-6 l3,3 l4,-4 l2,5 l4,-1 l-3,5 l-6,3 l-8,3z"/>
<path d="M52,640 l4,-5 l3,3 l4,-4 l1,4 l4,-1 l-3,5 l-6,2 l-7,3z"/>
</g>
<g fill="#a8794a">
<path d="M215,566 l6,0 l5,2 l-4,3 l-6,1z"/>
<path d="M172,582 l5,-5 l3,5 l5,-2 l-3,6 l-8,3z"/>
<path d="M137,597 l6,-6 l2,5 l5,-3 l-2,6 l-9,4z"/>
<path d="M110,611 l2,-8 l4,5 l4,-3 l-2,7 l-8,4z"/>
<path d="M66,631 l5,-5 l3,4 l4,-2 l-3,6 l-8,3z"/>
</g>
<g fill="#169a48">
<path d="M226,567 l2,-6 l3,4 l3,-5 l2,6 l5,-3 l-1,6 l-7,3 l-6,1z"/>
<path d="M197,577 l1,-7 l3,4 l3,-6 l2,6 l5,-3 l-1,6 l4,0 l-6,5 l-9,2z"/>
<path d="M178,587 l-2,-6 l4,2 l1,-6 l4,5 l3,-5 l2,6 l4,-1 l-4,6 l-8,3z"/>
<path d="M150,597 l-1,-7 l4,3 l2,-6 l3,6 l4,-3 l0,6 l4,0 l-5,5 l-8,3z"/>
<path d="M104,614 l-1,-7 l4,3 l2,-6 l3,6 l4,-3 l0,6 l4,0 l-5,5 l-8,3z"/>
<path d="M86,622 l-2,-6 l4,2 l1,-6 l4,5 l3,-4 l1,6 l4,-1 l-4,6 l-8,3z"/>
<path d="M63,632 l-1,-6 l3,2 l2,-5 l3,5 l3,-3 l0,5 l4,0 l-5,5 l-7,2z"/>
<path d="M46,646 l0,-6 l3,3 l2,-5 l2,5 l4,-2 l-1,5 l-6,4 l-4,1z"/>
</g>
<path d="M197,562 l5,9 M205,561 l-4,10 M117,600 l8,6 M128,598 l-5,9" stroke="#8a6a45" stroke-width="1.1" fill="none"/>
</g>
</g>
<!-- leaves on roof -->
<g fill="#d9a55b">
<path d="M43,560 l6,-5 l2,3 l5,-4 l0,5 l4,1 l-4,3 l2,3 l-6,0 l-3,4 l-6,2z"/>
<path d="M55,586 l8,2 l1,-3 l6,6 l4,-1 l1,5 l5,3 l-6,1 l-5,-2 l-5,1 l-4,-5 l-4,-2z"/>
<path d="M43,596 l5,2 l3,5 l-2,4 l2,5 l-4,3 l-4,-1z"/>
</g>
</g>

<!-- TEXT -->
<g id="labels">
<text x="62.0" y="134.7" font-size="35.0" fill="#2e3192" textLength="558.0" lengthAdjust="spacingAndGlyphs">Common Backyard Mosquito Sources</text>
<text x="180.0" y="326.0" font-size="17.5" fill="#231f20" textLength="137.5" lengthAdjust="spacingAndGlyphs">Uncovered boats</text>
<text x="53.2" y="364.2" font-size="17.5" fill="#ffffff" textLength="44.0" lengthAdjust="spacingAndGlyphs">Open</text>
<text x="53.2" y="387.2" font-size="17.5" fill="#ffffff" textLength="39.6" lengthAdjust="spacingAndGlyphs">trash</text>
<text x="53.2" y="410.2" font-size="17.5" fill="#ffffff" textLength="33.7" lengthAdjust="spacingAndGlyphs">bins</text>
<text x="180.0" y="469.1" font-size="17.5" fill="#231f20" textLength="114.0" lengthAdjust="spacingAndGlyphs">Fountains and</text>
<text x="180.0" y="492.1" font-size="17.5" fill="#231f20" textLength="81.0" lengthAdjust="spacingAndGlyphs">bird baths</text>
<text x="68.5" y="534.2" font-size="17.5" fill="#ffffff" textLength="68.4" lengthAdjust="spacingAndGlyphs">Clogged</text>
<text x="68.5" y="557.7" font-size="17.5" fill="#ffffff" textLength="92.7" lengthAdjust="spacingAndGlyphs">rain gutters</text>
<text x="167.2" y="695.4" font-size="17.5" fill="#ffffff" textLength="79.6" lengthAdjust="spacingAndGlyphs">Low areas</text>
<text x="409.8" y="566.0" font-size="17.5" fill="#ffffff" textLength="99.5" lengthAdjust="spacingAndGlyphs">Potted plant</text>
<text x="430.2" y="589.4" font-size="17.5" fill="#ffffff" textLength="59.2" lengthAdjust="spacingAndGlyphs">saucers</text>
<text x="335.0" y="646.9" font-size="17.5" fill="#ffffff" textLength="99.0" lengthAdjust="spacingAndGlyphs">Water bowls</text>
<text x="335.0" y="670.1" font-size="17.5" fill="#ffffff" textLength="60.7" lengthAdjust="spacingAndGlyphs">for pets</text>
<text x="473.3" y="485.6" font-size="17.5" fill="#ffffff" textLength="61.5" lengthAdjust="spacingAndGlyphs">Buckets</text>
<text x="435.7" y="508.6" font-size="17.5" fill="#ffffff" textLength="89.3" lengthAdjust="spacingAndGlyphs">and barrels</text>
<text x="556.5" y="559.1" font-size="17.5" fill="#231f20" textLength="100.0" lengthAdjust="spacingAndGlyphs">Wagons and</text>
<text x="556.5" y="582.1" font-size="17.5" fill="#231f20" textLength="82.0" lengthAdjust="spacingAndGlyphs">other toys</text>
<text x="667.0" y="382.2" font-size="17.5" fill="#ffffff" textLength="44.7" lengthAdjust="spacingAndGlyphs">Leaky</text>
<text x="667.0" y="405.0" font-size="17.5" fill="#ffffff" textLength="45.0" lengthAdjust="spacingAndGlyphs">hoses</text>
<text x="788.0" y="296.5" font-size="17.5" fill="#231f20" textLength="74.0" lengthAdjust="spacingAndGlyphs">Rot holes</text>
<text x="788.0" y="319.5" font-size="17.5" fill="#231f20" textLength="58.0" lengthAdjust="spacingAndGlyphs">in trees</text>
<text x="808.5" y="369.8" font-size="17.5" fill="#ffffff" textLength="37.0" lengthAdjust="spacingAndGlyphs">Tires</text>
<text x="816.0" y="539.6" font-size="17.5" fill="#ffffff" textLength="49.0" lengthAdjust="spacingAndGlyphs">Ponds</text>
<text x="757.0" y="701.4" font-size="17.5" fill="#ffffff" textLength="131.4" lengthAdjust="spacingAndGlyphs">Neglected pools</text>
<text x="872.3" y="57.6" font-size="7.0" fill="#d9efe0" textLength="21.0" lengthAdjust="spacingAndGlyphs">ENGH</text>
</g>
</g>
</svg>
</body>
</html>
